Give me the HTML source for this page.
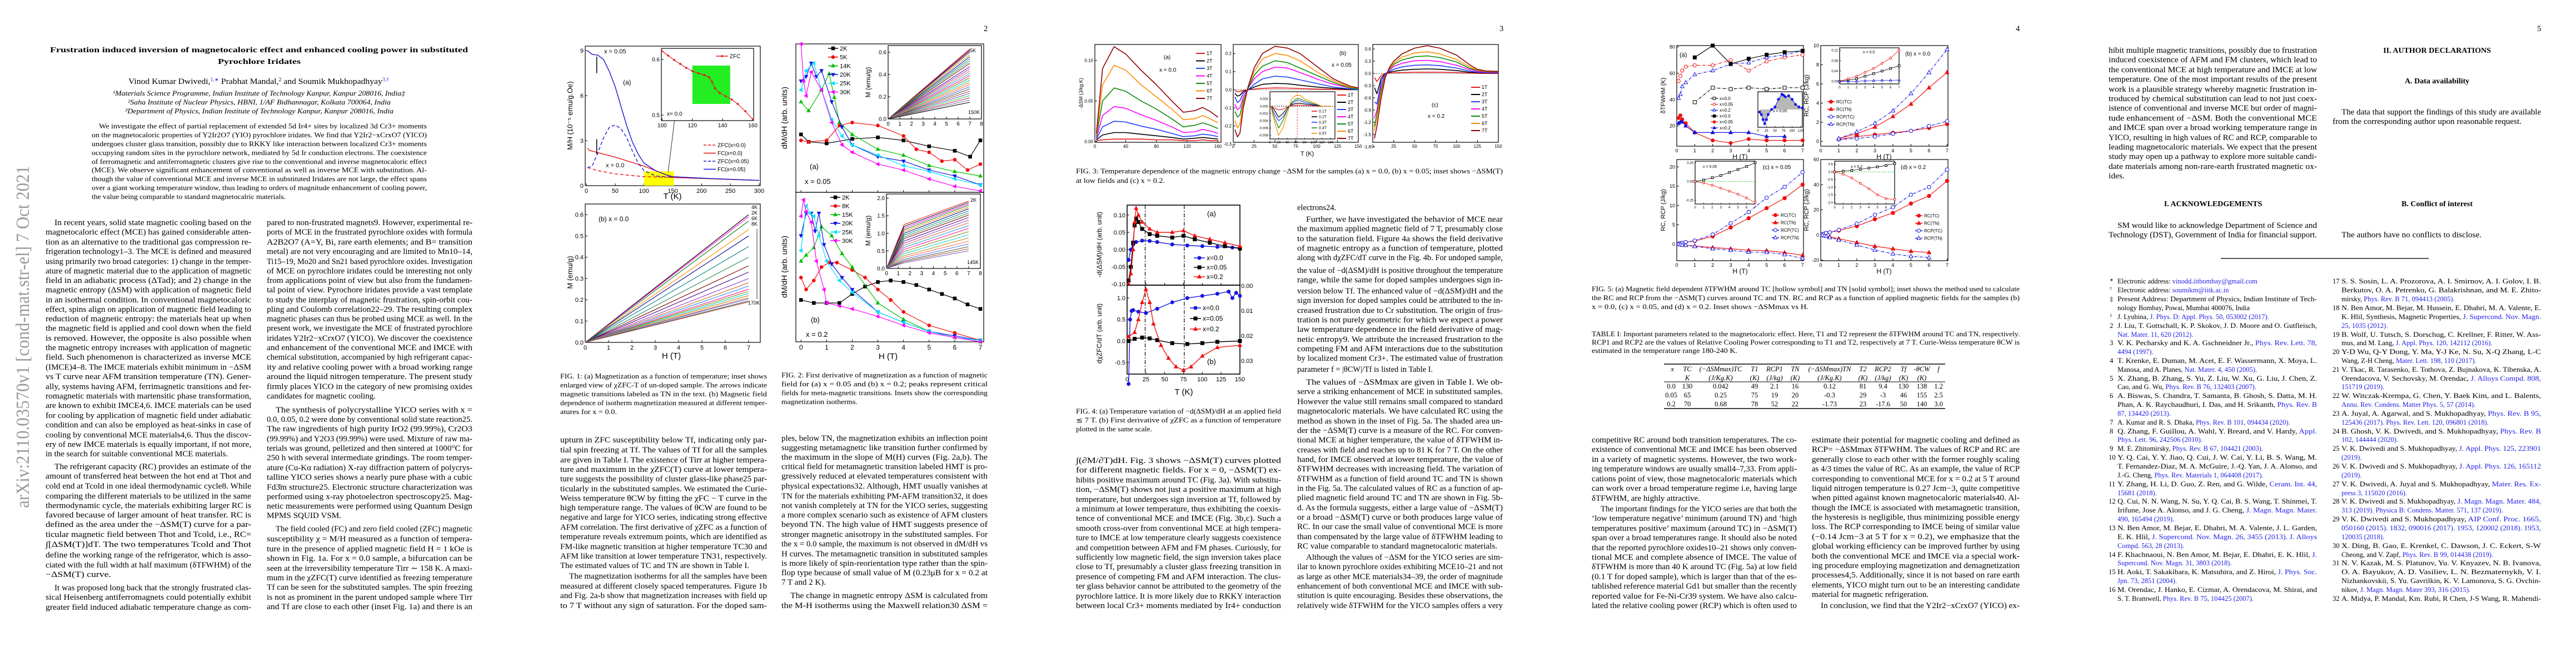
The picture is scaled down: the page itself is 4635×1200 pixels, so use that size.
<!DOCTYPE html>
<html><head><meta charset="utf-8"><title>Frustration induced inversion of magnetocaloric effect</title>
<style>
html,body{margin:0;padding:0;background:#fff;}
svg{display:block;}
.b{font-family:"Liberation Serif",serif;font-size:14.5px;fill:#000;}
.c{font-family:"Liberation Serif",serif;font-size:12.5px;fill:#000;}
.r{font-family:"Liberation Serif",serif;font-size:12.5px;fill:#000;}
.h{font-family:"Liberation Serif",serif;font-size:14px;font-weight:bold;fill:#000;}
.ax{font-family:"Liberation Sans",sans-serif;fill:#000;}
.lk{fill:#2323e6;}
</style></head>
<body>
<svg id="doc" width="4635" height="1200" viewBox="0 0 4635 1200" xmlns="http://www.w3.org/2000/svg">
<rect x="0" y="0" width="4635" height="1200" fill="#fff"/>

<!-- ================= PAGE 1 ================= -->
<g>
<text transform="translate(52,914) rotate(-90)" font-family="Liberation Serif, serif" font-size="34" fill="#9a9a9a" textLength="616" lengthAdjust="spacingAndGlyphs">arXiv:2110.03570v1  [cond-mat.str-el]  7 Oct 2021</text>
<g>
<text class="h" x="90" y="94" font-size="18" textLength="752" lengthAdjust="spacingAndGlyphs">Frustration induced inversion of magnetocaloric effect and enhanced cooling power in substituted</text>
<text class="h" x="392" y="115" font-size="18" textLength="149" lengthAdjust="spacingAndGlyphs">Pyrochlore Iridates</text>
</g>
<g>
<text class="b" x="231" y="151" textLength="469" lengthAdjust="spacingAndGlyphs">Vinod Kumar Dwivedi,<tspan class="lk" font-size="9" dy="-5">1,∗</tspan><tspan dy="5"> Prabhat Mandal,</tspan><tspan font-size="9" dy="-5">2</tspan><tspan dy="5"> and Soumik Mukhopadhyay</tspan><tspan class="lk" font-size="9" dy="-5">3,†</tspan></text>
</g>
<g font-style="italic">
<text class="c" x="203" y="172" textLength="526" lengthAdjust="spacingAndGlyphs">¹Materials Science Programme, Indian Institute of Technology Kanpur, Kanpur 208016, India‡</text>
<text class="c" x="230" y="188" textLength="473" lengthAdjust="spacingAndGlyphs">²Saha Institute of Nuclear Physics, HBNI, 1/AF Bidhannagar, Kolkata 700064, India</text>
<text class="c" x="225" y="204" textLength="483" lengthAdjust="spacingAndGlyphs">³Department of Physics, Indian Institute of Technology Kanpur, Kanpur 208016, India</text>
</g>
<g>
<text class="c" x="178" y="231" textLength="590" lengthAdjust="spacingAndGlyphs">We investigate the effect of partial replacement of extended 5d Ir4+ sites by localized 3d Cr3+ moments</text>
<text class="c" x="165" y="247" textLength="603" lengthAdjust="spacingAndGlyphs">on the magnetocaloric properties of Y2Ir2O7 (YIO) pyrochlore iridates. We find that Y2Ir2−xCrxO7 (YICO)</text>
<text class="c" x="165" y="263" textLength="603" lengthAdjust="spacingAndGlyphs">undergoes cluster glass transition, possibly due to RKKY like interaction between localized Cr3+ moments</text>
<text class="c" x="165" y="279" textLength="603" lengthAdjust="spacingAndGlyphs">occupying random sites in the pyrochlore network, mediated by 5d Ir conduction electrons. The coexistence</text>
<text class="c" x="165" y="295" textLength="603" lengthAdjust="spacingAndGlyphs">of ferromagnetic and antiferromagnetic clusters give rise to the conventional and inverse magnetocaloric effect</text>
<text class="c" x="165" y="310" textLength="603" lengthAdjust="spacingAndGlyphs">(MCE). We observe significant enhancement of conventional as well as inverse MCE with substitution. Al-</text>
<text class="c" x="165" y="326" textLength="603" lengthAdjust="spacingAndGlyphs">though the value of conventional MCE and inverse MCE in substituted Iridates are not large, the effect spans</text>
<text class="c" x="165" y="342" textLength="603" lengthAdjust="spacingAndGlyphs">over a giant working temperature window, thus leading to orders of magnitude enhancement of cooling power,</text>
<text class="c" x="165" y="358" textLength="349" lengthAdjust="spacingAndGlyphs">the value being comparable to standard magnetocalric materials.</text>
</g>
<g>
<text class="b" x="98" y="405" textLength="354" lengthAdjust="spacingAndGlyphs">In recent years, solid state magnetic cooling based on the</text>
<text class="b" x="82" y="422" textLength="370" lengthAdjust="spacingAndGlyphs">magnetocaloric effect (MCE) has gained considerable atten-</text>
<text class="b" x="82" y="440" textLength="370" lengthAdjust="spacingAndGlyphs">tion as an alternative to the traditional gas compression re-</text>
<text class="b" x="82" y="457" textLength="370" lengthAdjust="spacingAndGlyphs">frigeration technology1–3. The MCE is defined and measured</text>
<text class="b" x="82" y="475" textLength="370" lengthAdjust="spacingAndGlyphs">using primarily two broad categories: 1) change in the temper-</text>
<text class="b" x="82" y="492" textLength="370" lengthAdjust="spacingAndGlyphs">ature of magnetic material due to the application of magnetic</text>
<text class="b" x="82" y="509" textLength="370" lengthAdjust="spacingAndGlyphs">field in an adiabatic process (ΔTad); and 2) change in the</text>
<text class="b" x="82" y="526" textLength="370" lengthAdjust="spacingAndGlyphs">magnetic entropy (ΔSM) with application of magnetic field</text>
<text class="b" x="82" y="544" textLength="370" lengthAdjust="spacingAndGlyphs">in an isothermal condition. In conventional magnetocaloric</text>
<text class="b" x="82" y="561" textLength="370" lengthAdjust="spacingAndGlyphs">effect, spins align on application of magnetic field leading to</text>
<text class="b" x="82" y="578" textLength="370" lengthAdjust="spacingAndGlyphs">reduction of magnetic entropy: the materials heat up when</text>
<text class="b" x="82" y="595" textLength="370" lengthAdjust="spacingAndGlyphs">the magnetic field is applied and cool down when the field</text>
<text class="b" x="82" y="613" textLength="370" lengthAdjust="spacingAndGlyphs">is removed. However, the opposite is also possible when</text>
<text class="b" x="82" y="630" textLength="370" lengthAdjust="spacingAndGlyphs">the magnetic entropy increases with application of magnetic</text>
<text class="b" x="82" y="647" textLength="370" lengthAdjust="spacingAndGlyphs">field. Such phenomenon is characterized as inverse MCE</text>
<text class="b" x="82" y="665" textLength="370" lengthAdjust="spacingAndGlyphs">(IMCE)4–8. The IMCE materials exhibit minimum in −ΔSM</text>
<text class="b" x="82" y="682" textLength="370" lengthAdjust="spacingAndGlyphs">vs T curve near AFM transition temperature (TN). Gener-</text>
<text class="b" x="82" y="700" textLength="370" lengthAdjust="spacingAndGlyphs">ally, systems having AFM, ferrimagnetic transitions and fer-</text>
<text class="b" x="82" y="717" textLength="370" lengthAdjust="spacingAndGlyphs">romagnetic materials with martensitic phase transformation,</text>
<text class="b" x="82" y="734" textLength="370" lengthAdjust="spacingAndGlyphs">are known to exhibit IMCE4,6. IMCE materials can be used</text>
<text class="b" x="82" y="752" textLength="370" lengthAdjust="spacingAndGlyphs">for cooling by application of magnetic field under adiabatic</text>
<text class="b" x="82" y="769" textLength="370" lengthAdjust="spacingAndGlyphs">condition and can also be employed as heat-sinks in case of</text>
<text class="b" x="82" y="787" textLength="370" lengthAdjust="spacingAndGlyphs">cooling by conventional MCE materials4,6. Thus the discov-</text>
<text class="b" x="82" y="804" textLength="370" lengthAdjust="spacingAndGlyphs">ery of new IMCE materials is equally important, if not more,</text>
<text class="b" x="82" y="821" textLength="328" lengthAdjust="spacingAndGlyphs">in the search for suitable conventional MCE materials.</text>
<text class="b" x="98" y="844" textLength="354" lengthAdjust="spacingAndGlyphs">The refrigerant capacity (RC) provides an estimate of the</text>
<text class="b" x="82" y="861" textLength="370" lengthAdjust="spacingAndGlyphs">amount of transferred heat between the hot end at Thot and</text>
<text class="b" x="82" y="879" textLength="370" lengthAdjust="spacingAndGlyphs">cold end at Tcold in one ideal thermodynamic cycle8. While</text>
<text class="b" x="82" y="897" textLength="370" lengthAdjust="spacingAndGlyphs">comparing the different materials to be utilized in the same</text>
<text class="b" x="82" y="914" textLength="370" lengthAdjust="spacingAndGlyphs">thermodynamic cycle, the materials exhibiting larger RC is</text>
<text class="b" x="82" y="931" textLength="370" lengthAdjust="spacingAndGlyphs">favored because of larger amount of heat transfer. RC is</text>
<text class="b" x="82" y="948" textLength="370" lengthAdjust="spacingAndGlyphs">defined as the area under the −ΔSM(T) curve for a par-</text>
<text class="b" x="82" y="966" textLength="370" lengthAdjust="spacingAndGlyphs">ticular magnetic field between Thot and Tcold, i.e., RC=</text>
<text class="b" x="82" y="984" textLength="370" lengthAdjust="spacingAndGlyphs">∫[ΔSM(T)]dT. The two temperatures Tcold and Thot</text>
<text class="b" x="82" y="1003" textLength="370" lengthAdjust="spacingAndGlyphs">define the working range of the refrigerator, which is asso-</text>
<text class="b" x="82" y="1021" textLength="370" lengthAdjust="spacingAndGlyphs">ciated with the full width at half maximum (δTFWHM) of the</text>
<text class="b" x="82" y="1038" textLength="118" lengthAdjust="spacingAndGlyphs">−ΔSM(T) curve.</text>
<text class="b" x="98" y="1062" textLength="354" lengthAdjust="spacingAndGlyphs">It was proposed long back that the strongly frustrated clas-</text>
<text class="b" x="82" y="1079" textLength="370" lengthAdjust="spacingAndGlyphs">sical Heisenberg antiferromagnets could potentially exhibit</text>
<text class="b" x="82" y="1097" textLength="370" lengthAdjust="spacingAndGlyphs">greater field induced adiabatic temperature change as com-</text>
</g>
<g>
<text class="b" x="480" y="405" textLength="370" lengthAdjust="spacingAndGlyphs">pared to non-frustrated magnets9. However, experimental re-</text>
<text class="b" x="480" y="422" textLength="370" lengthAdjust="spacingAndGlyphs">ports of MCE in the frustrated pyrochlore oxides with formula</text>
<text class="b" x="480" y="440" textLength="370" lengthAdjust="spacingAndGlyphs">A2B2O7 (A=Y, Bi, rare earth elements; and B= transition</text>
<text class="b" x="480" y="457" textLength="370" lengthAdjust="spacingAndGlyphs">metal) are not very encouraging and are limited to Mn10–14,</text>
<text class="b" x="480" y="475" textLength="370" lengthAdjust="spacingAndGlyphs">Ti15–19, Mo20 and Sn21 based pyrochlore oxides. Investigation</text>
<text class="b" x="480" y="492" textLength="370" lengthAdjust="spacingAndGlyphs">of MCE on pyrochlore iridates could be interesting not only</text>
<text class="b" x="480" y="509" textLength="370" lengthAdjust="spacingAndGlyphs">from applications point of view but also from the fundamen-</text>
<text class="b" x="480" y="526" textLength="370" lengthAdjust="spacingAndGlyphs">tal point of view. Pyrochore iridates provide a vast template</text>
<text class="b" x="480" y="544" textLength="370" lengthAdjust="spacingAndGlyphs">to study the interplay of magnetic frustration, spin-orbit cou-</text>
<text class="b" x="480" y="561" textLength="370" lengthAdjust="spacingAndGlyphs">pling and Coulomb correlation22–29. The resulting complex</text>
<text class="b" x="480" y="578" textLength="370" lengthAdjust="spacingAndGlyphs">magnetic phases can thus be probed using MCE as well. In the</text>
<text class="b" x="480" y="595" textLength="370" lengthAdjust="spacingAndGlyphs">present work, we investigate the MCE of frustrated pyrochlore</text>
<text class="b" x="480" y="613" textLength="370" lengthAdjust="spacingAndGlyphs">iridates Y2Ir2−xCrxO7 (YICO). We discover the coexistence</text>
<text class="b" x="480" y="630" textLength="370" lengthAdjust="spacingAndGlyphs">and enhancement of the conventional MCE and IMCE with</text>
<text class="b" x="480" y="647" textLength="370" lengthAdjust="spacingAndGlyphs">chemical substitution, accompanied by high refrigerant capac-</text>
<text class="b" x="480" y="665" textLength="370" lengthAdjust="spacingAndGlyphs">ity and relative cooling power with a broad working range</text>
<text class="b" x="480" y="682" textLength="370" lengthAdjust="spacingAndGlyphs">around the liquid nitrogen temperature. The present study</text>
<text class="b" x="480" y="700" textLength="370" lengthAdjust="spacingAndGlyphs">firmly places YICO in the category of new promising oxides</text>
<text class="b" x="480" y="717" textLength="196" lengthAdjust="spacingAndGlyphs">candidates for magnetic cooling.</text>
<text class="b" x="496" y="742" textLength="354" lengthAdjust="spacingAndGlyphs">The synthesis of polycrystalline YICO series with x =</text>
<text class="b" x="480" y="759" textLength="370" lengthAdjust="spacingAndGlyphs">0.0, 0.05, 0.2 were done by conventional solid state reaction25.</text>
<text class="b" x="480" y="776" textLength="370" lengthAdjust="spacingAndGlyphs">The raw ingredients of high purity IrO2 (99.99%), Cr2O3</text>
<text class="b" x="480" y="794" textLength="370" lengthAdjust="spacingAndGlyphs">(99.99%) and Y2O3 (99.99%) were used. Mixture of raw ma-</text>
<text class="b" x="480" y="811" textLength="370" lengthAdjust="spacingAndGlyphs">terials was ground, pelletized and then sintered at 1000°C for</text>
<text class="b" x="480" y="828" textLength="370" lengthAdjust="spacingAndGlyphs">250 h with several intermediate grindings. The room temper-</text>
<text class="b" x="480" y="846" textLength="370" lengthAdjust="spacingAndGlyphs">ature (Cu-Kα radiation) X-ray diffraction pattern of polycrys-</text>
<text class="b" x="480" y="863" textLength="370" lengthAdjust="spacingAndGlyphs">talline YICO series shows a nearly pure phase with a cubic</text>
<text class="b" x="480" y="881" textLength="370" lengthAdjust="spacingAndGlyphs">Fd3̄m structure25. Electronic structure characterization was</text>
<text class="b" x="480" y="898" textLength="370" lengthAdjust="spacingAndGlyphs">performed using x-ray photoelectron spectroscopy25. Mag-</text>
<text class="b" x="480" y="915" textLength="370" lengthAdjust="spacingAndGlyphs">netic measurements were performed using Quantum Design</text>
<text class="b" x="480" y="932" textLength="134" lengthAdjust="spacingAndGlyphs">MPMS SQUID VSM.</text>
<text class="b" x="496" y="956" textLength="354" lengthAdjust="spacingAndGlyphs">The field cooled (FC) and zero field cooled (ZFC) magnetic</text>
<text class="b" x="480" y="974" textLength="370" lengthAdjust="spacingAndGlyphs">susceptibility χ = M/H measured as a function of tempera-</text>
<text class="b" x="480" y="992" textLength="370" lengthAdjust="spacingAndGlyphs">ture in the presence of applied magnetic field H = 1 kOe is</text>
<text class="b" x="480" y="1009" textLength="370" lengthAdjust="spacingAndGlyphs">shown in Fig. 1a. For x = 0.0 sample, a bifurcation can be</text>
<text class="b" x="480" y="1027" textLength="370" lengthAdjust="spacingAndGlyphs">seen at the irreversibility temperature Tirr ∼ 158 K. A maxi-</text>
<text class="b" x="480" y="1044" textLength="370" lengthAdjust="spacingAndGlyphs">mum in the χZFC(T) curve identified as freezing temperature</text>
<text class="b" x="480" y="1061" textLength="370" lengthAdjust="spacingAndGlyphs">Tf can be seen for the substituted samples. The spin freezing</text>
<text class="b" x="480" y="1079" textLength="370" lengthAdjust="spacingAndGlyphs">is not as prominent in the parent undoped sample where Tirr</text>
<text class="b" x="480" y="1096" textLength="370" lengthAdjust="spacingAndGlyphs">and Tf are close to each other (inset Fig. 1a) and there is an</text>
</g>
</g>

<!-- ================= PAGE 2 ================= -->
<g>
<text class="b" x="1770" y="56">2</text>
<g>
<text class="c" x="1008" y="681" textLength="372" lengthAdjust="spacingAndGlyphs">FIG. 1: (a) Magnetization as a function of temperature; inset shows</text>
<text class="c" x="1008" y="697" textLength="372" lengthAdjust="spacingAndGlyphs">enlarged view of χZFC-T of un-doped sample. The arrows indicate</text>
<text class="c" x="1008" y="713" textLength="372" lengthAdjust="spacingAndGlyphs">magnetic transitions labeled as TN in the text. (b) Magnetic field</text>
<text class="c" x="1008" y="729" textLength="372" lengthAdjust="spacingAndGlyphs">dependence of isotherm magnetization measured at different temper-</text>
<text class="c" x="1008" y="745" textLength="102" lengthAdjust="spacingAndGlyphs">atures for x = 0.0.</text>
</g>
<g>
<text class="c" x="1406" y="679" textLength="371" lengthAdjust="spacingAndGlyphs">FIG. 2: First derivative of magnetization as a function of magnetic</text>
<text class="c" x="1406" y="695" textLength="371" lengthAdjust="spacingAndGlyphs">field for (a) x = 0.05 and (b) x = 0.2; peaks represent critical</text>
<text class="c" x="1406" y="711" textLength="371" lengthAdjust="spacingAndGlyphs">fields for meta-magnetic transitions. Insets show the corresponding</text>
<text class="c" x="1406" y="727" textLength="137" lengthAdjust="spacingAndGlyphs">magnetization isotherms.</text>
</g>
<g>
<text class="b" x="1008" y="796" textLength="372" lengthAdjust="spacingAndGlyphs">upturn in ZFC susceptibility below Tf, indicating only par-</text>
<text class="b" x="1008" y="814" textLength="372" lengthAdjust="spacingAndGlyphs">tial spin freezing at Tf. The values of Tf for all the samples</text>
<text class="b" x="1008" y="832" textLength="372" lengthAdjust="spacingAndGlyphs">are given in Table I. The existence of Tirr at higher tempera-</text>
<text class="b" x="1008" y="849" textLength="372" lengthAdjust="spacingAndGlyphs">ture and maximum in the χZFC(T) curve at lower tempera-</text>
<text class="b" x="1008" y="866" textLength="372" lengthAdjust="spacingAndGlyphs">ture suggests the possibility of cluster glass-like phase25 par-</text>
<text class="b" x="1008" y="884" textLength="372" lengthAdjust="spacingAndGlyphs">ticularly in the substituted samples. We estimated the Curie-</text>
<text class="b" x="1008" y="901" textLength="372" lengthAdjust="spacingAndGlyphs">Weiss temperature θCW by fitting the χFC − T curve in the</text>
<text class="b" x="1008" y="918" textLength="372" lengthAdjust="spacingAndGlyphs">high temperature range. The values of θCW are found to be</text>
<text class="b" x="1008" y="935" textLength="372" lengthAdjust="spacingAndGlyphs">negative and large for YICO series, indicating strong effective</text>
<text class="b" x="1008" y="953" textLength="372" lengthAdjust="spacingAndGlyphs">AFM correlation. The first derivative of χZFC as a function of</text>
<text class="b" x="1008" y="970" textLength="372" lengthAdjust="spacingAndGlyphs">temperature reveals extremum points, which are identified as</text>
<text class="b" x="1008" y="988" textLength="372" lengthAdjust="spacingAndGlyphs">FM-like magnetic transition at higher temperature TC30 and</text>
<text class="b" x="1008" y="1005" textLength="372" lengthAdjust="spacingAndGlyphs">AFM like transition at lower temperature TN31, respectively.</text>
<text class="b" x="1008" y="1022" textLength="340" lengthAdjust="spacingAndGlyphs">The estimated values of TC and TN are shown in Table I.</text>
<text class="b" x="1024" y="1041" textLength="356" lengthAdjust="spacingAndGlyphs">The magnetization isotherms for all the samples have been</text>
<text class="b" x="1008" y="1059" textLength="372" lengthAdjust="spacingAndGlyphs">measured at different closely spaced temperatures. Figure 1b</text>
<text class="b" x="1008" y="1076" textLength="372" lengthAdjust="spacingAndGlyphs">and Fig. 2a-b show that magnetization increases with field up</text>
<text class="b" x="1008" y="1094" textLength="372" lengthAdjust="spacingAndGlyphs">to 7 T without any sign of saturation. For the doped sam-</text>
</g>
<g>
<text class="b" x="1406" y="793" textLength="371" lengthAdjust="spacingAndGlyphs">ples, below TN, the magnetization exhibits an inflection point</text>
<text class="b" x="1406" y="810" textLength="371" lengthAdjust="spacingAndGlyphs">suggesting metamagnetic like transition further confirmed by</text>
<text class="b" x="1406" y="827" textLength="371" lengthAdjust="spacingAndGlyphs">the maximum in the slope of M(H) curves (Fig. 2a,b). The</text>
<text class="b" x="1406" y="844" textLength="371" lengthAdjust="spacingAndGlyphs">critical field for metamagnetic transition labeled HMT is pro-</text>
<text class="b" x="1406" y="861" textLength="371" lengthAdjust="spacingAndGlyphs">gressively reduced at elevated temperatures consistent with</text>
<text class="b" x="1406" y="879" textLength="371" lengthAdjust="spacingAndGlyphs">physical expectations32. Although, HMT usually vanishes at</text>
<text class="b" x="1406" y="897" textLength="371" lengthAdjust="spacingAndGlyphs">TN for the materials exhibiting PM-AFM transition32, it does</text>
<text class="b" x="1406" y="914" textLength="371" lengthAdjust="spacingAndGlyphs">not vanish completely at TN for the YICO series, suggesting</text>
<text class="b" x="1406" y="931" textLength="371" lengthAdjust="spacingAndGlyphs">a more complex scenario such as existence of AFM clusters</text>
<text class="b" x="1406" y="948" textLength="371" lengthAdjust="spacingAndGlyphs">beyond TN. The high value of HMT suggests presence of</text>
<text class="b" x="1406" y="966" textLength="371" lengthAdjust="spacingAndGlyphs">stronger magnetic anisotropy in the substituted samples. For</text>
<text class="b" x="1406" y="983" textLength="371" lengthAdjust="spacingAndGlyphs">the x = 0.0 sample, the maximum is not observed in dM/dH vs</text>
<text class="b" x="1406" y="1001" textLength="371" lengthAdjust="spacingAndGlyphs">H curves. The metamagnetic transition in substituted samples</text>
<text class="b" x="1406" y="1018" textLength="371" lengthAdjust="spacingAndGlyphs">is more likely of spin-reorientation type rather than the spin-</text>
<text class="b" x="1406" y="1035" textLength="371" lengthAdjust="spacingAndGlyphs">flop type because of small value of M (0.23μB for x = 0.2 at</text>
<text class="b" x="1406" y="1052" textLength="80" lengthAdjust="spacingAndGlyphs">7 T and 2 K).</text>
<text class="b" x="1422" y="1076" textLength="355" lengthAdjust="spacingAndGlyphs">The change in magnetic entropy ΔSM is calculated from</text>
<text class="b" x="1406" y="1094" textLength="371" lengthAdjust="spacingAndGlyphs">the M-H isotherms using the Maxwell relation30 ΔSM =</text>
</g>
</g>

<!-- ================= PAGE 3 ================= -->
<g>
<text class="b" x="2698" y="56">3</text>
<g>
<text class="c" x="1936" y="312" textLength="768" lengthAdjust="spacingAndGlyphs">FIG. 3: Temperature dependence of the magnetic entropy change −ΔSM for the samples (a) x = 0.0, (b) x = 0.05; inset shows −ΔSM(T)</text>
<text class="c" x="1936" y="329" textLength="160" lengthAdjust="spacingAndGlyphs">at low fields and (c) x = 0.2.</text>
</g>
<g>
<text class="c" x="1936" y="744" textLength="369" lengthAdjust="spacingAndGlyphs">FIG. 4: (a) Temperature variation of −d(ΔSM)/dH at an applied field</text>
<text class="c" x="1936" y="760" textLength="369" lengthAdjust="spacingAndGlyphs">≲ 7 T. (b) First derivative of χZFC as a function of temperature</text>
<text class="c" x="1936" y="776" textLength="137" lengthAdjust="spacingAndGlyphs">plotted in the same scale.</text>
</g>
<g>
<text class="b" x="1936" y="833" textLength="369" lengthAdjust="spacingAndGlyphs">∫(∂M/∂T)dH. Fig. 3 shows −ΔSM(T) curves plotted</text>
<text class="b" x="1936" y="850" textLength="369" lengthAdjust="spacingAndGlyphs">for different magnetic fields. For x = 0, −ΔSM(T) ex-</text>
<text class="b" x="1936" y="868" textLength="369" lengthAdjust="spacingAndGlyphs">hibits positive maximum around TC (Fig. 3a). With substitu-</text>
<text class="b" x="1936" y="885" textLength="369" lengthAdjust="spacingAndGlyphs">tion, −ΔSM(T) shows not just a positive maximum at high</text>
<text class="b" x="1936" y="903" textLength="369" lengthAdjust="spacingAndGlyphs">temperature, but undergoes sign inversion at Tf, followed by</text>
<text class="b" x="1936" y="920" textLength="369" lengthAdjust="spacingAndGlyphs">a minimum at lower temperature, thus exhibiting the coexis-</text>
<text class="b" x="1936" y="937" textLength="369" lengthAdjust="spacingAndGlyphs">tence of conventional MCE and IMCE (Fig. 3b,c). Such a</text>
<text class="b" x="1936" y="955" textLength="369" lengthAdjust="spacingAndGlyphs">smooth cross-over from conventional MCE at high tempera-</text>
<text class="b" x="1936" y="972" textLength="369" lengthAdjust="spacingAndGlyphs">ture to IMCE at low temperature clearly suggests coexistence</text>
<text class="b" x="1936" y="990" textLength="369" lengthAdjust="spacingAndGlyphs">and competition between AFM and FM phases. Curiously, for</text>
<text class="b" x="1936" y="1007" textLength="369" lengthAdjust="spacingAndGlyphs">sufficiently low magnetic field, the sign inversion takes place</text>
<text class="b" x="1936" y="1024" textLength="369" lengthAdjust="spacingAndGlyphs">close to Tf, presumably a cluster glass freezing transition in</text>
<text class="b" x="1936" y="1042" textLength="369" lengthAdjust="spacingAndGlyphs">presence of competing FM and AFM interaction. The clus-</text>
<text class="b" x="1936" y="1059" textLength="369" lengthAdjust="spacingAndGlyphs">ter glass behavior cannot be attributed to the geometry of the</text>
<text class="b" x="1936" y="1077" textLength="369" lengthAdjust="spacingAndGlyphs">pyrochlore lattice. It is more likely due to RKKY interaction</text>
<text class="b" x="1936" y="1094" textLength="369" lengthAdjust="spacingAndGlyphs">between local Cr3+ moments mediated by Ir4+ conduction</text>
</g>
<g>
<text class="b" x="2334" y="378" textLength="70" lengthAdjust="spacingAndGlyphs">electrons24.</text>
<text class="b" x="2350" y="399" textLength="354" lengthAdjust="spacingAndGlyphs">Further, we have investigated the behavior of MCE near</text>
<text class="b" x="2334" y="416" textLength="370" lengthAdjust="spacingAndGlyphs">the maximum applied magnetic field of 7 T, presumably close</text>
<text class="b" x="2334" y="434" textLength="370" lengthAdjust="spacingAndGlyphs">to the saturation field. Figure 4a shows the field derivative</text>
<text class="b" x="2334" y="451" textLength="370" lengthAdjust="spacingAndGlyphs">of magnetic entropy as a function of temperature, plotted</text>
<text class="b" x="2334" y="468" textLength="370" lengthAdjust="spacingAndGlyphs">along with dχZFC/dT curve in the Fig. 4b. For undoped sample,</text>
<text class="b" x="2334" y="491" textLength="370" lengthAdjust="spacingAndGlyphs">the value of −d(ΔSM)/dH is positive throughout the temperature</text>
<text class="b" x="2334" y="508" textLength="370" lengthAdjust="spacingAndGlyphs">range, while the same for doped samples undergoes sign in-</text>
<text class="b" x="2334" y="528" textLength="370" lengthAdjust="spacingAndGlyphs">version below Tf. The enhanced value of −d(ΔSM)/dH and the</text>
<text class="b" x="2334" y="545" textLength="370" lengthAdjust="spacingAndGlyphs">sign inversion for doped samples could be attributed to the in-</text>
<text class="b" x="2334" y="563" textLength="370" lengthAdjust="spacingAndGlyphs">creased frustration due to Cr substitution. The origin of frus-</text>
<text class="b" x="2334" y="580" textLength="370" lengthAdjust="spacingAndGlyphs">tration is not purely geometric for which we expect a power</text>
<text class="b" x="2334" y="597" textLength="370" lengthAdjust="spacingAndGlyphs">law temperature dependence in the field derivative of mag-</text>
<text class="b" x="2334" y="615" textLength="370" lengthAdjust="spacingAndGlyphs">netic entropy9. We attribute the increased frustration to the</text>
<text class="b" x="2334" y="632" textLength="370" lengthAdjust="spacingAndGlyphs">competing FM and AFM interactions due to the substitution</text>
<text class="b" x="2334" y="649" textLength="370" lengthAdjust="spacingAndGlyphs">by localized moment Cr3+. The estimated value of frustration</text>
<text class="b" x="2334" y="669" textLength="244" lengthAdjust="spacingAndGlyphs">parameter f = |θCW|/Tf is listed in Table I.</text>
<text class="b" x="2350" y="692" textLength="354" lengthAdjust="spacingAndGlyphs">The values of −ΔSMmax are given in Table I. We ob-</text>
<text class="b" x="2334" y="709" textLength="370" lengthAdjust="spacingAndGlyphs">serve a striking enhancement of MCE in substituted samples.</text>
<text class="b" x="2334" y="727" textLength="370" lengthAdjust="spacingAndGlyphs">However the value still remains small compared to standard</text>
<text class="b" x="2334" y="744" textLength="370" lengthAdjust="spacingAndGlyphs">magnetocaloric materials. We have calculated RC using the</text>
<text class="b" x="2334" y="762" textLength="370" lengthAdjust="spacingAndGlyphs">method as shown in the inset of Fig. 5a. The shaded area un-</text>
<text class="b" x="2334" y="779" textLength="370" lengthAdjust="spacingAndGlyphs">der the −ΔSM(T) curve is a measure of the RC. For conven-</text>
<text class="b" x="2334" y="796" textLength="370" lengthAdjust="spacingAndGlyphs">tional MCE at higher temperature, the value of δTFWHM in-</text>
<text class="b" x="2334" y="814" textLength="370" lengthAdjust="spacingAndGlyphs">creases with field and reaches up to 81 K for 7 T. On the other</text>
<text class="b" x="2334" y="831" textLength="370" lengthAdjust="spacingAndGlyphs">hand, for IMCE observed at lower temperature, the value of</text>
<text class="b" x="2334" y="848" textLength="370" lengthAdjust="spacingAndGlyphs">δTFWHM decreases with increasing field. The variation of</text>
<text class="b" x="2334" y="866" textLength="370" lengthAdjust="spacingAndGlyphs">δTFWHM as a function of field around TC and TN is shown</text>
<text class="b" x="2334" y="883" textLength="370" lengthAdjust="spacingAndGlyphs">in the Fig. 5a. The calculated values of RC as a function of ap-</text>
<text class="b" x="2334" y="900" textLength="370" lengthAdjust="spacingAndGlyphs">plied magnetic field around TC and TN are shown in Fig. 5b-</text>
<text class="b" x="2334" y="918" textLength="370" lengthAdjust="spacingAndGlyphs">d. As the formula suggests, either a large value of −ΔSM(T)</text>
<text class="b" x="2334" y="935" textLength="370" lengthAdjust="spacingAndGlyphs">or a broad −ΔSM(T) curve or both produces large value of</text>
<text class="b" x="2334" y="952" textLength="370" lengthAdjust="spacingAndGlyphs">RC. In our case the small value of conventional MCE is more</text>
<text class="b" x="2334" y="970" textLength="370" lengthAdjust="spacingAndGlyphs">than compensated by the large value of δTFWHM leading to</text>
<text class="b" x="2334" y="987" textLength="360" lengthAdjust="spacingAndGlyphs">RC value comparable to standard magnetocaloric materials.</text>
<text class="b" x="2350" y="1007" textLength="354" lengthAdjust="spacingAndGlyphs">Although the values of −ΔSM for the YICO series are sim-</text>
<text class="b" x="2334" y="1024" textLength="370" lengthAdjust="spacingAndGlyphs">ilar to known pyrochlore oxides exhibiting MCE10–21 and not</text>
<text class="b" x="2334" y="1042" textLength="370" lengthAdjust="spacingAndGlyphs">as large as other MCE materials34–39, the order of magnitude</text>
<text class="b" x="2334" y="1059" textLength="370" lengthAdjust="spacingAndGlyphs">enhancement of both conventional MCE and IMCE with sub-</text>
<text class="b" x="2334" y="1076" textLength="370" lengthAdjust="spacingAndGlyphs">stitution is quite encouraging. Besides these observations, the</text>
<text class="b" x="2334" y="1094" textLength="370" lengthAdjust="spacingAndGlyphs">relatively wide δTFWHM for the YICO samples offers a very</text>
</g>
</g>

<!-- ================= PAGE 4 ================= -->
<g>
<text class="b" x="3627" y="56">4</text>
<g>
<text class="c" x="2864" y="524" textLength="770" lengthAdjust="spacingAndGlyphs">FIG. 5: (a) Magnetic field dependent δTFWHM around TC [hollow symbol] and TN [solid symbol]; inset shows the method used to calculate</text>
<text class="c" x="2864" y="540" textLength="770" lengthAdjust="spacingAndGlyphs">the RC and RCP from the −ΔSM(T) curves around TC and TN. RC and RCP as a function of applied magnetic fields for the samples (b)</text>
<text class="c" x="2864" y="556" textLength="390" lengthAdjust="spacingAndGlyphs">x = 0.0, (c) x = 0.05, and (d) x = 0.2. Inset shows −ΔSMmax vs H.</text>
</g>
<g>
<text class="c" x="2864" y="605" textLength="770" lengthAdjust="spacingAndGlyphs">TABLE I: Important parameters related to the magnetocaloric effect. Here, T1 and T2 represent the δTFWHM around TC and TN, respectively.</text>
<text class="c" x="2864" y="620" textLength="770" lengthAdjust="spacingAndGlyphs">RCP1 and RCP2 are the values of Relative Cooling Power corresponding to T1 and T2, respectively at 7 T. Curie-Weiss temperature θCW is</text>
<text class="c" x="2864" y="635" textLength="262" lengthAdjust="spacingAndGlyphs">estimated in the temperature range 180-240 K.</text>
</g>
<g font-family="Liberation Serif, serif" font-size="12.5" text-anchor="middle">
<line x1="2994" y1="655" x2="3500" y2="655" stroke="#000" stroke-width="1.5"/>
<line x1="2994" y1="687" x2="3500" y2="687" stroke="#000" stroke-width="1"/>
<line x1="2994" y1="735" x2="3500" y2="735" stroke="#000" stroke-width="1.5"/>
<g font-style="italic">
<text x="3009" y="668">x</text><text x="3036" y="668">TC</text><text x="3096" y="668">(−ΔSMmax)TC</text><text x="3157" y="668">T1</text><text x="3193" y="668">RCP1</text><text x="3230" y="668">TN</text><text x="3292" y="668">(−ΔSMmax)TN</text><text x="3352" y="668">T2</text><text x="3388" y="668">RCP2</text><text x="3425" y="668">Tf</text><text x="3458" y="668">-θCW</text><text x="3488" y="668">f</text>
<text x="3036" y="684">K</text><text x="3096" y="684">(J/Kg.K)</text><text x="3157" y="684">(K)</text><text x="3193" y="684">(J/kg)</text><text x="3230" y="684">(K)</text><text x="3292" y="684">(J/Kg.K)</text><text x="3352" y="684">(K)</text><text x="3388" y="684">(J/kg)</text><text x="3425" y="684">(K)</text><text x="3458" y="684">(K)</text>
</g>
<g><text x="3007" y="699">0.0</text><text x="3036" y="699">130</text><text x="3096" y="699">0.042</text><text x="3157" y="699">49</text><text x="3193" y="699">2.1</text><text x="3230" y="699">16</text><text x="3292" y="699">0.12</text><text x="3352" y="699">81</text><text x="3388" y="699">9.4</text><text x="3425" y="699">130</text><text x="3458" y="699">138</text><text x="3488" y="699">1.2</text></g>
<g><text x="3007" y="715">0.05</text><text x="3036" y="715">65</text><text x="3096" y="715">0.25</text><text x="3157" y="715">75</text><text x="3193" y="715">19</text><text x="3230" y="715">20</text><text x="3292" y="715">-0.3</text><text x="3352" y="715">29</text><text x="3388" y="715">-3</text><text x="3425" y="715">46</text><text x="3458" y="715">155</text><text x="3488" y="715">2.5</text></g>
<g><text x="3007" y="731">0.2</text><text x="3036" y="731">70</text><text x="3096" y="731">0.68</text><text x="3157" y="731">78</text><text x="3193" y="731">52</text><text x="3230" y="731">22</text><text x="3292" y="731">-1.73</text><text x="3352" y="731">23</text><text x="3388" y="731">-17.6</text><text x="3425" y="731">50</text><text x="3458" y="731">140</text><text x="3488" y="731">3.0</text></g>
</g>
<g>
<text class="b" x="2864" y="796" textLength="369" lengthAdjust="spacingAndGlyphs">competitive RC around both transition temperatures. The co-</text>
<text class="b" x="2864" y="813" textLength="369" lengthAdjust="spacingAndGlyphs">existence of conventional MCE and IMCE has been observed</text>
<text class="b" x="2864" y="831" textLength="369" lengthAdjust="spacingAndGlyphs">in a variety of magnetic systems. However, the two work-</text>
<text class="b" x="2864" y="848" textLength="369" lengthAdjust="spacingAndGlyphs">ing temperature windows are usually small4–7,33. From appli-</text>
<text class="b" x="2864" y="866" textLength="369" lengthAdjust="spacingAndGlyphs">cations point of view, those magnetocaloric materials which</text>
<text class="b" x="2864" y="883" textLength="369" lengthAdjust="spacingAndGlyphs">can work over a broad temperature regime i.e, having large</text>
<text class="b" x="2864" y="901" textLength="195" lengthAdjust="spacingAndGlyphs">δTFWHM, are highly attractive.</text>
<text class="b" x="2880" y="920" textLength="353" lengthAdjust="spacingAndGlyphs">The important findings for the YICO series are that both the</text>
<text class="b" x="2864" y="937" textLength="369" lengthAdjust="spacingAndGlyphs">‘low temperature negative’ minimum (around TN) and ‘high</text>
<text class="b" x="2864" y="955" textLength="369" lengthAdjust="spacingAndGlyphs">temperatures positive’ maximum (around TC) in −ΔSM(T)</text>
<text class="b" x="2864" y="972" textLength="369" lengthAdjust="spacingAndGlyphs">span over a broad temperatures range. It should also be noted</text>
<text class="b" x="2864" y="990" textLength="369" lengthAdjust="spacingAndGlyphs">that the reported pyrochlore oxides10–21 shows only conven-</text>
<text class="b" x="2864" y="1007" textLength="369" lengthAdjust="spacingAndGlyphs">tional MCE and complete absence of IMCE. The value of</text>
<text class="b" x="2864" y="1024" textLength="369" lengthAdjust="spacingAndGlyphs">δTFWHM is more than 40 K around TC (Fig. 5a) at low field</text>
<text class="b" x="2864" y="1042" textLength="369" lengthAdjust="spacingAndGlyphs">(0.1 T for doped sample), which is larger than that of the es-</text>
<text class="b" x="2864" y="1059" textLength="369" lengthAdjust="spacingAndGlyphs">tablished reference material Gd1 but smaller than the recently</text>
<text class="b" x="2864" y="1077" textLength="369" lengthAdjust="spacingAndGlyphs">reported value for Fe-Ni-Cr39 system. We have also calcu-</text>
<text class="b" x="2864" y="1094" textLength="369" lengthAdjust="spacingAndGlyphs">lated the relative cooling power (RCP) which is often used to</text>
</g>
<g>
<text class="b" x="3260" y="796" textLength="374" lengthAdjust="spacingAndGlyphs">estimate their potential for magnetic cooling and defined as</text>
<text class="b" x="3260" y="813" textLength="374" lengthAdjust="spacingAndGlyphs">RCP= −ΔSMmax δTFWHM. The values of RCP and RC are</text>
<text class="b" x="3260" y="831" textLength="374" lengthAdjust="spacingAndGlyphs">generally close to each other with the former roughly scaling</text>
<text class="b" x="3260" y="848" textLength="374" lengthAdjust="spacingAndGlyphs">as 4/3 times the value of RC. As an example, the value of RCP</text>
<text class="b" x="3260" y="866" textLength="374" lengthAdjust="spacingAndGlyphs">corresponding to conventional MCE for x = 0.2 at 5 T around</text>
<text class="b" x="3260" y="883" textLength="374" lengthAdjust="spacingAndGlyphs">liquid nitrogen temperature is 0.27 Jcm−3, quite competitive</text>
<text class="b" x="3260" y="900" textLength="374" lengthAdjust="spacingAndGlyphs">when pitted against known magnetocaloric materials40. Al-</text>
<text class="b" x="3260" y="918" textLength="374" lengthAdjust="spacingAndGlyphs">though the IMCE is associated with metamagnetic transition,</text>
<text class="b" x="3260" y="935" textLength="374" lengthAdjust="spacingAndGlyphs">the hysteresis is negligible, thus minimizing possible energy</text>
<text class="b" x="3260" y="952" textLength="374" lengthAdjust="spacingAndGlyphs">loss. The RCP corresponding to IMCE being of similar value</text>
<text class="b" x="3260" y="970" textLength="374" lengthAdjust="spacingAndGlyphs">(−0.14 Jcm−3 at 5 T for x = 0.2), we emphasize that the</text>
<text class="b" x="3260" y="987" textLength="374" lengthAdjust="spacingAndGlyphs">global working efficiency can be improved further by using</text>
<text class="b" x="3260" y="1005" textLength="374" lengthAdjust="spacingAndGlyphs">both the conventional MCE and IMCE via a special work-</text>
<text class="b" x="3260" y="1022" textLength="374" lengthAdjust="spacingAndGlyphs">ing procedure employing magnetization and demagnetization</text>
<text class="b" x="3260" y="1039" textLength="374" lengthAdjust="spacingAndGlyphs">processes4,5. Additionally, since it is not based on rare earth</text>
<text class="b" x="3260" y="1057" textLength="374" lengthAdjust="spacingAndGlyphs">elements, YICO might turn out to be an interesting candidate</text>
<text class="b" x="3260" y="1074" textLength="210" lengthAdjust="spacingAndGlyphs">material for magnetic refrigeration.</text>
<text class="b" x="3276" y="1094" textLength="358" lengthAdjust="spacingAndGlyphs">In conclusion, we find that the Y2Ir2−xCrxO7 (YICO) ex-</text>
</g>
</g>

<!-- ================= PAGE 5 ================= -->
<g>
<text class="b" x="4565" y="56">5</text>
<g>
<text class="b" x="3794" y="95" textLength="375" lengthAdjust="spacingAndGlyphs">hibit multiple magnetic transitions, possibly due to frustration</text>
<text class="b" x="3794" y="112" textLength="375" lengthAdjust="spacingAndGlyphs">induced coexistence of AFM and FM clusters, which lead to</text>
<text class="b" x="3794" y="130" textLength="375" lengthAdjust="spacingAndGlyphs">the conventional MCE at high temperature and IMCE at low</text>
<text class="b" x="3794" y="147" textLength="375" lengthAdjust="spacingAndGlyphs">temperature. One of the most important results of the present</text>
<text class="b" x="3794" y="165" textLength="375" lengthAdjust="spacingAndGlyphs">work is a plausible strategy whereby magnetic frustration in-</text>
<text class="b" x="3794" y="182" textLength="375" lengthAdjust="spacingAndGlyphs">troduced by chemical substitution can lead to not just coex-</text>
<text class="b" x="3794" y="199" textLength="375" lengthAdjust="spacingAndGlyphs">istence of conventional and inverse MCE but order of magni-</text>
<text class="b" x="3794" y="217" textLength="375" lengthAdjust="spacingAndGlyphs">tude enhancement of −ΔSM. Both the conventional MCE</text>
<text class="b" x="3794" y="234" textLength="375" lengthAdjust="spacingAndGlyphs">and IMCE span over a broad working temperature range in</text>
<text class="b" x="3794" y="252" textLength="375" lengthAdjust="spacingAndGlyphs">YICO, resulting in high values of RC and RCP, comparable to</text>
<text class="b" x="3794" y="269" textLength="375" lengthAdjust="spacingAndGlyphs">leading magnetocaloric materials. We expect that the present</text>
<text class="b" x="3794" y="286" textLength="375" lengthAdjust="spacingAndGlyphs">study may open up a pathway to explore more suitable candi-</text>
<text class="b" x="3794" y="304" textLength="375" lengthAdjust="spacingAndGlyphs">date materials among non-rare-earth frustrated magnetic ox-</text>
<text class="b" x="3794" y="321" textLength="29" lengthAdjust="spacingAndGlyphs">ides.</text>
</g>
<text class="h" x="3982" y="371" text-anchor="middle" font-size="13">I.   ACKNOWLEDGEMENTS</text>
<g>
<text class="b" x="3810" y="410" textLength="359" lengthAdjust="spacingAndGlyphs">SM would like to acknowledge Department of Science and</text>
<text class="b" x="3794" y="427" textLength="375" lengthAdjust="spacingAndGlyphs">Technology (DST), Government of India for financial support.</text>
</g>
<text class="h" x="4385" y="95" text-anchor="middle" font-size="13">II.   AUTHOR DECLARATIONS</text>
<text class="h" x="4385" y="150" text-anchor="middle" font-size="13">A.   Data availability</text>
<g>
<text class="b" x="4213" y="206" textLength="359" lengthAdjust="spacingAndGlyphs">The data that support the findings of this study are available</text>
<text class="b" x="4197" y="223" textLength="340" lengthAdjust="spacingAndGlyphs">from the corresponding author upon reasonable request.</text>
</g>
<text class="h" x="4385" y="371" text-anchor="middle" font-size="13">B.   Conflict of interest</text>
<text class="b" x="4213" y="427" textLength="252" lengthAdjust="spacingAndGlyphs">The authors have no conflicts to disclose.</text>
<line x1="3996" y1="465" x2="4370" y2="465" stroke="#555" stroke-width="2"/>
<g>
<text class="r" x="3796" y="510"><tspan font-size="8" dy="-4">∗</tspan><tspan x="3810" dy="4">Electronic address: </tspan><tspan class="lk">vinodd.iitbombay@gmail.com</tspan></text>
<text class="r" x="3796" y="526"><tspan font-size="8" dy="-4">†</tspan><tspan x="3810" dy="4">Electronic address: </tspan><tspan class="lk">soumikm@iitk.ac.in</tspan></text>
<text class="r" x="3796" y="542" font-size="8">‡</text><text class="r" x="3810" y="542" textLength="359" lengthAdjust="spacingAndGlyphs">Present Address: Department of Physics, Indian Institute of Tech-</text>
<text class="r" x="3810" y="558">nology Bombay, Powai, Mumbai 400076, India</text>
<text class="r" x="3796" y="574"><tspan font-size="8" dy="-4">1</tspan><tspan x="3810" dy="4">J. Lyubina, </tspan><tspan class="lk">J. Phys. D: Appl. Phys. 50, 053002 (2017).</tspan></text>
<text class="r" x="3796" y="590" font-size="8">2</text><text class="r" x="3810" y="590" textLength="359" lengthAdjust="spacingAndGlyphs">J. Liu, T. Gottschall, K. P. Skokov, J. D. Moore and O. Gutfleisch,</text>
<text class="r lk" x="3810" y="606">Nat. Mater. 11, 620 (2012).</text>
<text class="r" x="3796" y="621" font-size="8">3</text><text class="r" x="3810" y="621" textLength="359" lengthAdjust="spacingAndGlyphs">V. K. Pecharsky and K. A. Gschneidner Jr., <tspan class="lk">Phys. Rev. Lett. 78,</tspan></text>
<text class="r lk" x="3810" y="637">4494 (1997).</text>
<text class="r" x="3796" y="653" font-size="8">4</text><text class="r" x="3810" y="653" textLength="359" lengthAdjust="spacingAndGlyphs">T. Krenke, E. Duman, M. Acet, E. F. Wassermann, X. Moya, L.</text>
<text class="r" x="3810" y="669">Manosa, and A. Planes, <tspan class="lk">Nat. Mater. 4, 450 (2005).</tspan></text>
<text class="r" x="3796" y="685" font-size="8">5</text><text class="r" x="3810" y="685" textLength="359" lengthAdjust="spacingAndGlyphs">X. Zhang, B. Zhang, S. Yu, Z. Liu, W. Xu, G. Liu, J. Chen, Z.</text>
<text class="r" x="3810" y="700">Cao, and G. Wu, <tspan class="lk">Phys. Rev. B 76, 132403 (2007).</tspan></text>
<text class="r" x="3796" y="716" font-size="8">6</text><text class="r" x="3810" y="716" textLength="359" lengthAdjust="spacingAndGlyphs">A. Biswas, S. Chandra, T. Samanta, B. Ghosh, S. Datta, M. H.</text>
<text class="r" x="3810" y="732" textLength="359" lengthAdjust="spacingAndGlyphs">Phan, A. K. Raychaudhuri, I. Das, and H. Srikanth, <tspan class="lk">Phys. Rev. B</tspan></text>
<text class="r lk" x="3810" y="748">87, 134420 (2013).</text>
<text class="r" x="3796" y="764" font-size="8">7</text><text class="r" x="3810" y="764">A. Kumar and R. S. Dhaka, <tspan class="lk">Phys. Rev. B 101, 094434 (2020).</tspan></text>
<text class="r" x="3796" y="780" font-size="8">8</text><text class="r" x="3810" y="780" textLength="359" lengthAdjust="spacingAndGlyphs">Q. Zhang, F. Guillou, A. Wahl, Y. Breard, and V. Hardy, <tspan class="lk">Appl.</tspan></text>
<text class="r lk" x="3810" y="795">Phys. Lett. 96, 242506 (2010).</text>
<text class="r" x="3796" y="811" font-size="8">9</text><text class="r" x="3810" y="811">M. E. Zhitomirsky, <tspan class="lk">Phys. Rev. B 67, 104421 (2003).</tspan></text>
<text class="r" x="3794" y="827" font-size="8">10</text><text class="r" x="3810" y="827" textLength="359" lengthAdjust="spacingAndGlyphs">Y. Q. Cai, Y. Y. Jiao, Q. Cui, J. W. Cai, Y. Li, B. S. Wang, M.</text>
<text class="r" x="3810" y="843" textLength="359" lengthAdjust="spacingAndGlyphs">T. Fernandez-Diaz, M. A. McGuire, J.-Q. Yan, J. A. Alonso, and</text>
<text class="r" x="3810" y="859">J.-G. Cheng, <tspan class="lk">Phys. Rev. Materials 1, 064408 (2017).</tspan></text>
<text class="r" x="3794" y="875" font-size="8">11</text><text class="r" x="3810" y="875" textLength="359" lengthAdjust="spacingAndGlyphs">Y. Zhang, H. Li, D. Guo, Z. Ren, and G. Wilde, <tspan class="lk">Ceram. Int. 44,</tspan></text>
<text class="r lk" x="3810" y="891">15681 (2018).</text>
<text class="r" x="3794" y="906" font-size="8">12</text><text class="r" x="3810" y="906" textLength="359" lengthAdjust="spacingAndGlyphs">Q. Cui, N. N. Wang, N. Su, Y. Q. Cai, B. S. Wang, T. Shinmei, T.</text>
<text class="r" x="3810" y="922" textLength="359" lengthAdjust="spacingAndGlyphs">Irifune, Jose A. Alonso, and J. G. Cheng, <tspan class="lk">J. Magn. Magn. Mater.</tspan></text>
<text class="r lk" x="3810" y="938">490, 165494 (2019).</text>
<text class="r" x="3794" y="954" font-size="8">13</text><text class="r" x="3810" y="954" textLength="359" lengthAdjust="spacingAndGlyphs">N. Ben Amor, M. Bejar, E. Dhahri, M. A. Valente, J. L. Garden,</text>
<text class="r" x="3810" y="970" textLength="359" lengthAdjust="spacingAndGlyphs">E. K. Hlil, <tspan class="lk">J. Supercond. Nov. Magn. 26, 3455 (2013). J. Alloys</tspan></text>
<text class="r lk" x="3810" y="986">Compd. 563, 28 (2013).</text>
<text class="r" x="3794" y="1002" font-size="8">14</text><text class="r" x="3810" y="1002" textLength="359" lengthAdjust="spacingAndGlyphs">F. Khachnaoui, N. Ben Amor, M. Bejar, E. Dhahri, E. K. Hlil, <tspan class="lk">J.</tspan></text>
<text class="r lk" x="3810" y="1017">Supercond. Nov. Magn. 31, 3803 (2018).</text>
<text class="r" x="3794" y="1033" font-size="8">15</text><text class="r" x="3810" y="1033" textLength="359" lengthAdjust="spacingAndGlyphs">H. Aoki, T. Sakakibara, K. Matsuhira, and Z. Hiroi, <tspan class="lk">J. Phys. Soc.</tspan></text>
<text class="r lk" x="3810" y="1049">Jpn. 73, 2851 (2004).</text>
<text class="r" x="3794" y="1065" font-size="8">16</text><text class="r" x="3810" y="1065" textLength="359" lengthAdjust="spacingAndGlyphs">M. Orendac, J. Hanko, E. Cizmar, A. Orendacova, M. Shirai, and</text>
<text class="r" x="3810" y="1081">S. T. Bramwell, <tspan class="lk">Phys. Rev. B 75, 104425 (2007).</tspan></text>
</g>
<g>
<text class="r" x="4197" y="510" font-size="8">17</text><text class="r" x="4213" y="510" textLength="359" lengthAdjust="spacingAndGlyphs">S. S. Sosin, L. A. Prozorova, A. I. Smirnov, A. I. Golov, I. B.</text>
<text class="r" x="4213" y="526" textLength="359" lengthAdjust="spacingAndGlyphs">Berkutov, O. A. Petrenko, G. Balakrishnan, and M. E. Zhito-</text>
<text class="r" x="4213" y="542">mirsky, <tspan class="lk">Phys. Rev. B 71, 094413 (2005).</tspan></text>
<text class="r" x="4197" y="558" font-size="8">18</text><text class="r" x="4213" y="558" textLength="359" lengthAdjust="spacingAndGlyphs">N. Ben Amor, M. Bejar, M. Hussein, E. Dhahri, M. A. Valente, E.</text>
<text class="r" x="4213" y="574" textLength="359" lengthAdjust="spacingAndGlyphs">K. Hlil, Synthesis, Magnetic Properties, <tspan class="lk">J. Supercond. Nov. Magn.</tspan></text>
<text class="r lk" x="4213" y="590">25, 1035 (2012).</text>
<text class="r" x="4197" y="606" font-size="8">19</text><text class="r" x="4213" y="606" textLength="359" lengthAdjust="spacingAndGlyphs">B. Wolf, U. Tutsch, S. Dorschug, C. Krellner, F. Ritter, W. Ass-</text>
<text class="r" x="4213" y="621">mus, and M. Lang, <tspan class="lk">J. Appl. Phys. 120, 142112 (2016).</tspan></text>
<text class="r" x="4197" y="637" font-size="8">20</text><text class="r" x="4213" y="637" textLength="359" lengthAdjust="spacingAndGlyphs">Y-D Wu, Q-Y Dong, Y. Ma, Y-J Ke, N. Su, X-Q Zhang, L-C</text>
<text class="r" x="4213" y="653">Wang, Z-H Cheng, <tspan class="lk">Mater. Lett. 198, 110 (2017).</tspan></text>
<text class="r" x="4197" y="669" font-size="8">21</text><text class="r" x="4213" y="669" textLength="359" lengthAdjust="spacingAndGlyphs">V. Tkac, R. Tarasenko, E. Tothova, Z. Bujnakova, K. Tibenska, A.</text>
<text class="r" x="4213" y="685" textLength="359" lengthAdjust="spacingAndGlyphs">Orendacova, V. Sechovsky, M. Orendac, <tspan class="lk">J. Alloys Compd. 808,</tspan></text>
<text class="r lk" x="4213" y="700">151719 (2019).</text>
<text class="r" x="4197" y="716" font-size="8">22</text><text class="r" x="4213" y="716" textLength="359" lengthAdjust="spacingAndGlyphs">W. Witczak-Krempa, G. Chen, Y. Baek Kim, and L. Balents,</text>
<text class="r lk" x="4213" y="732">Annu. Rev. Condens. Matter Phys. 5, 57 (2014).</text>
<text class="r" x="4197" y="748" font-size="8">23</text><text class="r" x="4213" y="748" textLength="359" lengthAdjust="spacingAndGlyphs">A. Juyal, A. Agarwal, and S. Mukhopadhyay, <tspan class="lk">Phys. Rev. B 95,</tspan></text>
<text class="r lk" x="4213" y="764">125436 (2017). Phys. Rev. Lett. 120, 096801 (2018).</text>
<text class="r" x="4197" y="780" font-size="8">24</text><text class="r" x="4213" y="780" textLength="359" lengthAdjust="spacingAndGlyphs">B. Ghosh, V. K. Dwivedi, and S. Mukhopadhyay, <tspan class="lk">Phys. Rev. B</tspan></text>
<text class="r lk" x="4213" y="795">102, 144444 (2020).</text>
<text class="r" x="4197" y="811" font-size="8">25</text><text class="r" x="4213" y="811" textLength="359" lengthAdjust="spacingAndGlyphs">V. K. Dwivedi and S. Mukhopadhyay, <tspan class="lk">J. Appl. Phys. 125, 223901</tspan></text>
<text class="r lk" x="4213" y="827">(2019).</text>
<text class="r" x="4197" y="843" font-size="8">26</text><text class="r" x="4213" y="843" textLength="359" lengthAdjust="spacingAndGlyphs">V. K. Dwivedi and S. Mukhopadhyay, <tspan class="lk">J. Appl. Phys. 126, 165112</tspan></text>
<text class="r lk" x="4213" y="859">(2019).</text>
<text class="r" x="4197" y="875" font-size="8">27</text><text class="r" x="4213" y="875" textLength="359" lengthAdjust="spacingAndGlyphs">V. K. Dwivedi, A. Juyal and S. Mukhopadhyay, <tspan class="lk">Mater. Res. Ex-</tspan></text>
<text class="r lk" x="4213" y="891">press 3, 115020 (2016).</text>
<text class="r" x="4197" y="906" font-size="8">28</text><text class="r" x="4213" y="906" textLength="359" lengthAdjust="spacingAndGlyphs">V. K. Dwivedi and S. Mukhopadhyay, <tspan class="lk">J. Magn. Magn. Mater. 484,</tspan></text>
<text class="r lk" x="4213" y="922">313 (2019). Physica B: Condens. Matter. 571, 137 (2019).</text>
<text class="r" x="4197" y="938" font-size="8">29</text><text class="r" x="4213" y="938" textLength="359" lengthAdjust="spacingAndGlyphs">V. K. Dwivedi and S. Mukhopadhyay, <tspan class="lk">AIP Conf. Proc. 1665,</tspan></text>
<text class="r lk" x="4213" y="954" textLength="359" lengthAdjust="spacingAndGlyphs">050160 (2015). 1832, 090016 (2017). 1953, 120002 (2018). 1953,</text>
<text class="r lk" x="4213" y="970">120035 (2018).</text>
<text class="r" x="4197" y="986" font-size="8">30</text><text class="r" x="4213" y="986" textLength="359" lengthAdjust="spacingAndGlyphs">X. Ding, B. Gao, E. Krenkel, C. Dawson, J. C. Eckert, S-W</text>
<text class="r" x="4213" y="1002">Cheong, and V. Zapf, <tspan class="lk">Phys. Rev. B 99, 014438 (2019).</tspan></text>
<text class="r" x="4197" y="1017" font-size="8">31</text><text class="r" x="4213" y="1017" textLength="359" lengthAdjust="spacingAndGlyphs">N. V. Kazak, M. S. Platunov, Yu. V. Knyazev, N. B. Ivanova,</text>
<text class="r" x="4213" y="1033" textLength="359" lengthAdjust="spacingAndGlyphs">O. A. Bayukov, A. D. Vasiliev, L. N. Bezmaternykh, V. I.</text>
<text class="r" x="4213" y="1049" textLength="359" lengthAdjust="spacingAndGlyphs">Nizhankovskii, S. Yu. Gavrilkin, K. V. Lamonova, S. G. Ovchin-</text>
<text class="r" x="4213" y="1065">nikov, <tspan class="lk">J. Magn. Magn. Mater 393, 316 (2015).</tspan></text>
<text class="r" x="4197" y="1081" font-size="8">32</text><text class="r" x="4213" y="1081" textLength="359" lengthAdjust="spacingAndGlyphs">A. Midya, P. Mandal, Km. Rubi, R Chen, J-S Wang, R. Mahendi-</text>
</g>
</g>

<g id="figures"></g>
</svg>

<script>
/* ===================== DATA ===================== */
// Fig 1a: M/H vs T
const F1A_T_FC005 = [2,10,20,30,40,50,60,70,80,90,100,120,140,150,200,300];
const F1A_M_FC005 = [9.0,8.75,8.7,8.4,7.6,6.6,5.3,4.0,2.9,2.1,1.5,1.0,0.7,0.6,0.5,0.35];
const F1A_T_ZFC005 = [2,10,20,30,40,50,60,70,80,90,100,120,150];
const F1A_M_ZFC005 = [1.2,1.3,2.2,3.2,3.9,4.05,3.8,3.2,2.3,1.5,1.0,0.65,0.55];
const F1A_T_FC0 = [2,5,50,100,150,200,300];
const F1A_M_FC0 = [2.5,2.35,1.9,1.3,0.55,0.48,0.35];
const F1A_T_ZFC0 = [2,20,50,100,150,300];
const F1A_M_ZFC0 = [1.2,1.0,0.78,0.6,0.55,0.35];
const F1A_XTICKS = ['0','50','100','150','200','250','300'];
const F1A_YTICKS = ['0','3','6','9'];
const F1A_LEGEND = ['ZFC(x=0.0)','FC(x=0.0)','ZFC(x=0.05)','FC(x=0.05)'];
// Fig 1a inset
const F1I_T = [100,104,108,112,116,120,124,128,131,133,135,138,142,146,150,155,160];
const F1I_M = [0.615,0.607,0.599,0.592,0.585,0.579,0.575,0.572,0.568,0.56,0.548,0.54,0.534,0.528,0.52,0.507,0.492];
const F1I_XTICKS = ['100','120','140','160'];
const F1I_YTICKS = ['0.5','0.6'];
// Fig 1b: M(H) isotherm end values at 7 T
const F1B_END = [0.60,0.60,0.59,0.57,0.53,0.50,0.45,0.40,0.36,0.33,0.30,0.28,0.265,0.25,0.24,0.23,0.22,0.21,0.205,0.195,0.19];
const F1B_XTICKS = ['0','1','2','3','4','5','6','7'];
const F1B_YTICKS = ['0.0','0.1','0.2','0.3','0.4','0.5','0.6'];
const F1B_TLABELS = ['4K','2K','6K','8K'];
// Fig 2a: dM/dH, x = 0.05
const F2A_LABELS = ['2K','5K','14K','20K','25K','30K'];
const F2A_H = [[0,0.3,1,2,3,4,5,6,6.6,7],[0,0.3,1,1.5,2,3,4,4.5,5,5.5,6,6.5,7],[0,0.3,0.8,1.1,1.3,1.5,2,3,4,5,6,7],[0,0.2,0.4,0.6,0.8,1.2,1.6,2,3,4,5,6,7],[0,0.2,0.5,0.8,1.2,1.6,2,3,4,5,6,7],[0,0.1,0.2,0.4,0.8,1.2,1.6,2,3,4,5,6,7]];
const F2A_Y = [[0.39,0.34,0.33,0.36,0.37,0.35,0.31,0.28,0.24,0.35],[0.35,0.34,0.35,0.45,0.47,0.45,0.38,0.29,0.27,0.21,0.22,0.15,0.19],[0.61,0.55,0.69,0.80,0.64,0.47,0.39,0.29,0.25,0.18,0.14,0.11],[0.75,0.78,0.87,0.78,0.82,0.61,0.44,0.32,0.24,0.21,0.15,0.11,0.05],[0.69,0.82,0.87,0.69,0.49,0.38,0.32,0.25,0.18,0.14,0.09,0.05],[1.0,0.75,0.65,0.81,0.69,0.47,0.32,0.27,0.19,0.15,0.09,0.04,0.01]];
const F2A_INSET_END = [0.63,0.62,0.61,0.60,0.58,0.56,0.54,0.52,0.50,0.47,0.45,0.43,0.41,0.39,0.37,0.35,0.33,0.31,0.29,0.27,0.25,0.23,0.21,0.19,0.17,0.15];
const F2I_XTICKS = ['0','1','2','3','4','5','6','7','8'];
const F2AI_YTICKS = ['0.0','0.2','0.4','0.6'];
// Fig 2b: dM/dH, x = 0.2
const F2B_LABELS = ['2K','8K','15K','20K','25K','30K'];
const F2B_H = [[0,0.5,1,1.5,2,2.5,3,3.5,4,4.5,5,5.5,6,6.5,7],[0,0.2,0.5,0.8,1.1,1.4,2,2.5,3,3.5,4,5,6,7],[0,0.2,0.5,0.8,1.2,1.6,2,3,4,5,6,7],[0,0.2,0.4,0.55,0.7,0.9,1.2,1.6,2,3,4,5,6,7],[0,0.2,0.35,0.5,0.7,1,1.5,2,3,4,5,6,7],[0,0.1,0.2,0.4,0.6,0.9,1,1.5,2,3,4,5,6,7]];
const F2B_Y = [[0.28,0.26,0.26,0.26,0.32,0.37,0.40,0.41,0.40,0.38,0.35,0.32,0.29,0.25,0.22],[0.43,0.35,0.41,0.50,0.53,0.53,0.48,0.43,0.35,0.28,0.20,0.11,0.06,0.01],[0.54,0.58,0.63,0.77,0.71,0.59,0.50,0.26,0.15,0.07,0.03,0.0],[0.71,0.86,0.86,0.74,0.86,0.65,0.52,0.43,0.35,0.20,0.13,0.07,0.04,0.01],[0.61,0.91,0.86,0.84,0.71,0.54,0.41,0.33,0.20,0.13,0.07,0.03,0.01],[0.84,0.95,0.87,0.80,0.54,0.35,0.26,0.24,0.22,0.17,0.11,0.06,0.03,0.0]];
const F2B_INSET_END = [1.92,1.88,1.84,1.8,1.75,1.7,1.64,1.58,1.52,1.45,1.38,1.3,1.22,1.14,1.05,0.96,0.87,0.78,0.7,0.62,0.56,0.5];
const F2B_INSET_MID = [1.25,1.2,1.15,1.1,1.05,1.0,0.95,0.9,0.85,0.78,0.72,0.66,0.6,0.54,0.48,0.42,0.36,0.31,0.26,0.22,0.19,0.16];
const F2BI_YTICKS = ['0.0','0.5','1.0','1.5','2.0'];
const F2_XTICKS = ['0','1','2','3','4','5','6','7'];
// Fig 3: -dS_M vs T
const F3_FIELDS = ['1T','2T','3T','4T','5T','6T','7T'];
const F3A_T = [2,10,25,40,60,80,100,115,130,140,150,160];
const F3A_S = [
 [0.001,0.002,0.003,0.003,0.003,0.002,0.002,0.001,0.001,0.002,0.001,0.001],
 [0.002,0.008,0.011,0.011,0.009,0.007,0.005,0.003,0.004,0.005,0.004,0.003],
 [0.003,0.018,0.025,0.024,0.019,0.015,0.010,0.006,0.007,0.009,0.008,0.006],
 [0.004,0.032,0.043,0.041,0.033,0.026,0.018,0.011,0.012,0.015,0.013,0.010],
 [0.006,0.050,0.066,0.062,0.050,0.040,0.028,0.018,0.020,0.023,0.020,0.016],
 [0.008,0.070,0.094,0.088,0.070,0.055,0.040,0.027,0.028,0.032,0.028,0.023],
 [0.010,0.090,0.117,0.108,0.088,0.070,0.050,0.036,0.038,0.042,0.037,0.030]];
const F3A_XTICKS = ['0','40','80','120','160'];
const F3A_YTICKS = ['0.00','0.05','0.10'];
const F3B_T = [2,5,8,12,18,25,35,50,65,80,100,120,140,150];
const F3B_S = [
 [-0.005,-0.01,-0.01,-0.003,0,0.004,0.008,0.01,0.009,0.007,0.004,0.002,0,0],
 [-0.02,-0.035,-0.03,-0.01,0,0.015,0.03,0.035,0.033,0.025,0.015,0.008,0.002,0],
 [-0.04,-0.07,-0.06,-0.02,0,0.03,0.06,0.075,0.07,0.055,0.035,0.015,0.005,0],
 [-0.08,-0.11,-0.1,-0.04,0.01,0.06,0.1,0.125,0.12,0.095,0.06,0.03,0.01,0.005],
 [-0.12,-0.15,-0.14,-0.06,0.01,0.08,0.13,0.16,0.15,0.12,0.08,0.04,0.01,0.005],
 [-0.17,-0.21,-0.19,-0.08,0.02,0.1,0.17,0.2,0.19,0.16,0.1,0.05,0.015,0.01],
 [-0.22,-0.26,-0.24,-0.1,0.02,0.12,0.2,0.24,0.23,0.2,0.13,0.06,0.02,0.01]];
const F3BC_XTICKS = ['0','25','50','75','100','125','150'];
const F3B_YTICKS = ['-0.3','-0.2','-0.1','0.0','0.1','0.2'];
const F3BI_FIELDS = ['0.1T','0.2T','0.3T','0.4T','0.5T'];
const F3BI_T = [2,10,20,30,40,50,60,70,80,100,120,140];
const F3BI_S = [
 [0,-0.0005,-0.001,-0.0008,-0.0002,0.0001,0.0003,0.0003,0.0002,0.0001,0,0],
 [0,-0.001,-0.003,-0.002,-0.0005,0.0004,0.0008,0.0008,0.0006,0.0003,0,0],
 [0,-0.002,-0.004,-0.003,-0.001,0.0007,0.0015,0.0015,0.001,0.0005,0,0],
 [0,-0.003,-0.006,-0.004,-0.001,0.001,0.002,0.002,0.0015,0.0007,0,0],
 [0,-0.004,-0.008,-0.006,-0.002,0.002,0.003,0.003,0.002,0.001,0,0]];
const F3BI_XTICKS = ['0','20','40','60','80','100','120','140'];
const F3BI_YTICKS = ['-0.008','-0.006','-0.004','-0.002','0.000','0.002'];
const F3C_T = [2,5,10,15,20,25,35,50,65,80,100,115,125,135,150];
const F3C_S = [
 [-0.1,-0.2,-0.05,0,0.01,0.015,0.02,0.03,0.03,0.03,0.02,0.01,0,0,0],
 [-0.35,-0.5,-0.12,0,0.03,0.05,0.08,0.1,0.11,0.1,0.07,0.03,0.02,0.01,0.01],
 [-0.7,-0.75,-0.2,-0.01,0.05,0.1,0.16,0.2,0.21,0.19,0.13,0.06,0.03,0.02,0.02],
 [-1.1,-0.9,-0.3,-0.03,0.08,0.17,0.25,0.31,0.32,0.29,0.2,0.1,0.05,0.03,0.03],
 [-1.3,-1.0,-0.4,-0.05,0.1,0.22,0.33,0.41,0.43,0.39,0.28,0.13,0.07,0.04,0.04],
 [-1.4,-1.1,-0.5,-0.08,0.12,0.25,0.4,0.5,0.53,0.48,0.34,0.17,0.08,0.05,0.05],
 [-1.6,-1.3,-0.6,-0.1,0.15,0.3,0.48,0.62,0.68,0.62,0.45,0.22,0.1,0.06,0.05]];
const F3C_YTICKS = ['-1.8','-1.5','-1.2','-0.9','-0.6','-0.3','0.0','0.3','0.6'];
// Fig 4
const F4_LABELS = ['x=0.0','x=0.05','x=0.2'];
const F4A_T = [[2,5,8,12,20,30,40,60,80,100,120,140,150],[2,5,8,10,12,15,20,30,40,60,75,90,110,130,150],[2,5,8,10,12,15,20,30,40,60,75,90,110,130,150]];
const F4A_Y = [[-0.03,0.0,0.015,0.022,0.026,0.025,0.022,0.015,0.012,0.01,0.008,0.006,0.005],[-0.09,-0.05,0.02,0.07,0.09,0.08,0.06,0.045,0.04,0.035,0.04,0.03,0.02,0.01,0.003],[-0.1,-0.07,0.0,0.08,0.12,0.1,0.08,0.06,0.05,0.05,0.055,0.04,0.03,0.02,0.01]];
const F4A_YTICKS = ['-0.10','-0.05','0.00','0.05','0.10'];
const F4B_T = [[2,4,6,8,15,25,40,60,80,100,120,135,140,145,150],[2,10,20,30,40,60,80,100,120,150],[2,10,15,20,25,30,35,45,55,65,75,85,100,120,150]];
const F4B_Y = [[-1.0,0.5,0.7,0.72,0.68,0.65,0.75,0.9,1.0,1.05,1.1,1.15,1.0,1.12,1.05],[0.0,0.05,0.08,0.06,0.02,-0.05,-0.07,-0.05,-0.02,0.0],[0.1,0.2,0.5,0.9,1.2,0.9,0.4,-0.1,-0.4,-0.6,-0.68,-0.6,-0.35,-0.15,-0.1]];
const F4B_YTICKS = ['-0.5','0.0','0.5','1.0'];
const F4B_RTICKS = ['0.00','0.01','0.02','0.03'];
const F4_XTICKS = ['0','25','50','75','100','125','150'];
const F4_TLINES = [24,76];
// Fig 5a
const F5A_LABELS = ['x=0.0','x=0.05','x=0.2','x=0.0','x=0.05','x=0.2'];
const F5A_H = [[1,2,3,4,5,6,7],[0.1,0.2,0.3,0.5,1,2,3,4,5,6,7],[0.1,0.2,0.3,0.5,1,2,3,4,5,6,7],[1,2,3,4,5,6,7],[0.1,0.2,0.3,0.5,1,2,3,4,5,6,7],[0.1,0.2,0.3,0.5,1,2,3,4,5,6]];
const F5A_Y = [[38,49,48,49,48,49,49],[54,58,62,65,66,66,70,62,69,72,74],[41,44,50,53,59,62,67,68,72,74,77],[72,81,67,71,74,76,77],[26,28,25,22,15,9,7,10,9,9,9],[22,23,23,20,15,15,15,15,12,12]];
const F5A_YTICKS = ['20','40','60','80'];
const F5AI_T = [5,10,15,20,25,30,40,50,60,70,75,80,90,100,110,120,130];
const F5AI_S = [-0.00005,-0.0001,-0.0002,-0.00028,-0.0002,-0.0001,0,0.00005,0.0002,0.0003,0.00028,0.00025,0.00027,0.0002,0.0001,0.00005,0.00003];
// Fig 5b-d
const F5_RLABELS = ['RC(TC)','RC(TN)','RCP(TC)','RCP(TN)'];
const F5B_H = [1,2,3,4,5,6,7];
const F5B_Y = [[0.2,0.5,0.7,0.9,1.1,1.4,1.8],[0.3,0.8,1.5,2.6,3.9,5.6,7.2],[0.2,0.3,0.5,0.8,1.1,1.6,2.1],[0.3,1.0,1.9,3.2,5.0,7.2,9.6]];
const F5B_YTICKS = ['0','2','4','6','8','10'];
const F5C_H = [0.1,0.2,0.3,0.5,1,2,3,4,5,6,7];
const F5C_Y = [[0.1,0.2,0.3,0.5,0.8,2,4.3,6.7,9.3,11.9,15.4],[0,-0.1,-0.2,-0.3,-0.5,-0.9,-1.2,-1.6,-1.7,-2.2,-2.9],[0.1,0.2,0.3,0.5,0.9,2.5,5.4,8.3,12,14.8,18.6],[0,-0.1,-0.2,-0.3,-0.6,-1.2,-1.6,-2.1,-2.1,-2.7,-3.7]];
const F5C_YTICKS = ['0','5','10','15','20'];
const F5D_HC = [0.1,0.2,0.3,0.5,1,2,3,4,5,6,7];
const F5D_HN = [0.1,0.2,0.3,0.5,1,2,3,4,5,6];
const F5D_Y = [[0.5,1,1.5,2,3.5,7,12.5,17.5,25,31,43],[0,-0.5,-1,-1.5,-3,-6,-9,-11,-13,-14],[0.5,1,1.5,2,4,9,16,22,32,38,52],[0,-0.5,-1,-2,-4,-8,-12,-15,-17,-18]];
const F5D_YTICKS = ['-20','0','20','40','60'];
const F5_XTICKS = ['0','1','2','3','4','5','6','7'];
const F5I_H = [0,1,2,3,4,5,6,7];
const F5BI_Y = [[0,0.005,0.01,0.02,0.03,0.04,0.05,0.06],[0,0.01,0.02,0.035,0.05,0.07,0.09,0.12],[0,0,0,0.002,0.003,0.004,0.004,0.005]];
const F5CI_Y = [[0,0.02,0.05,0.08,0.12,0.16,0.2,0.25],[0,-0.02,-0.05,-0.09,-0.13,-0.17,-0.22,-0.28]];
const F5DI_Y = [[0,0.05,0.1,0.17,0.25,0.33,0.42,0.55],[0,-0.15,-0.4,-0.75,-1.1,-1.5,-1.75,-1.8]];

/* ===================== DRAWING ===================== */
const NS='http://www.w3.org/2000/svg';
const FIG=document.getElementById('figures');
function el(tag,parent){const e=document.createElementNS(NS,tag);parent.appendChild(e);return e;}
function set(e,o){for(const k in o)e.setAttribute(k,o[k]);return e;}
const PAL=['#e41a1c','#000000','#ff00ff','#008000','#ff8c00','#00008b','#008080','#2e8b57','#800000','#4b0082','#9932cc','#d2691e','#1e90ff','#ff1493','#808000','#00ced1','#b8860b','#ff6347','#4169e1','#555555','#a0522d','#6a5acd','#32cd32','#c71585','#708090','#000000'];
const F3COL=['#e41a1c','#000000','#1f3fff','#ff00ff','#0a8a0a','#ff8c00','#8b0000'];

function txt(g,x,y,s,fs,o){
  o=o||{};
  const t=set(el('text',g),{x:x,y:y,'font-size':fs,'class':'ax'});
  if(o.anchor)t.setAttribute('text-anchor',o.anchor);
  if(o.rot)t.setAttribute('transform','rotate(-90 '+x+' '+y+')');
  if(o.fill)t.setAttribute('fill',o.fill);
  t.textContent=s;
  return t;
}
function axes(name,b,xd,yd,xt,yt,o){
  o=o||{};
  const g=el('g',FIG);
  
  
  const sx=v=>b.x+(v-xd[0])/(xd[1]-xd[0])*b.w;
  const sy=v=>b.y+b.h-(v-yd[0])/(yd[1]-yd[0])*b.h;
  const fs=o.fs||10;
  const fr=set(el('rect',g),{x:b.x,y:b.y,width:b.w,height:b.h,fill:o.bg||'none',stroke:'#000','stroke-width':o.sw||1.2});
  
  
  const tl=o.tl||4;
  xt.forEach(s=>{
    const v=parseFloat(s),X=sx(v);
    set(el('line',g),{x1:X,x2:X,y1:b.y+b.h,y2:b.y+b.h-tl,stroke:'#000','stroke-width':1});
    if(!o.noxl){const t=txt(g,X,b.y+b.h+fs+2,s,fs,{anchor:'middle'});
      
      }
  });
  yt.forEach(s=>{
    const v=parseFloat(s),Y=sy(v);
    set(el('line',g),{x1:b.x,x2:b.x+tl,y1:Y,y2:Y,stroke:'#000','stroke-width':1});
    if(!o.noyl){const t=txt(g,b.x-3,Y+fs*0.35,s,fs,{anchor:'end'});
      
      }
  });
  if(o.xlab){const t=txt(g,o.xlab[0],o.xlab[1],o.xlab[2],o.xlab[3]||14,{anchor:'middle'});
    
    }
  if(o.ylab){const t=txt(g,o.ylab[0],o.ylab[1],o.ylab[2],o.ylab[3]||13,{anchor:'middle',rot:true});
    
    }
  return {g:g,sx:sx,sy:sy,b:b};
}
function marker(g,type,X,Y,s,color,hollow){
  let m;
  if(type==='sq'){m=set(el('rect',g),{x:X-s,y:Y-s,width:2*s,height:2*s});}
  else if(type==='ci'){m=set(el('circle',g),{cx:X,cy:Y,r:s});}
  else if(type==='tr'){m=set(el('polygon',g),{points:(X)+','+(Y-s*1.2)+' '+(X-s*1.1)+','+(Y+s*0.8)+' '+(X+s*1.1)+','+(Y+s*0.8)});}
  else if(type==='tv'){m=set(el('polygon',g),{points:(X)+','+(Y+s*1.2)+' '+(X-s*1.1)+','+(Y-s*0.8)+' '+(X+s*1.1)+','+(Y-s*0.8)});}
  else if(type==='tl'){m=set(el('polygon',g),{points:(X-s*1.2)+','+(Y)+' '+(X+s*0.8)+','+(Y-s*1.1)+' '+(X+s*0.8)+','+(Y+s*1.1)});}
  else return;
  set(m,{fill:hollow?'#fff':color,stroke:color,'stroke-width':1});
  
  
}
function series(ax,name,xs,ys,color,o){
  o=o||{};
  const g=el('g',ax.g);
  
  
  const pts=xs.map((x,i)=>ax.sx(x).toFixed(1)+','+ax.sy(ys[i]).toFixed(1)).join(' ');
  if(!o.noline){
    const p=set(el('polyline',g),{points:pts,fill:'none',stroke:color,'stroke-width':o.w||1.4,'stroke-linejoin':'round'});
    if(o.dash)p.setAttribute('stroke-dasharray',o.dash);
  }
  if(o.m){xs.forEach((x,i)=>marker(g,o.m,ax.sx(x),ax.sy(ys[i]),o.ms||2.5,color,o.hollow));}
  return g;
}
function legendEntry(g,x,y,len,label,color,o){
  o=o||{};
  const e=el('g',g);
  
  
  const l=set(el('line',e),{x1:x,x2:x+len,y1:y,y2:y,stroke:color,'stroke-width':o.w||1.6});
  if(o.dash)l.setAttribute('stroke-dasharray',o.dash);
  if(o.m)marker(e,o.m,x+len/2,y,o.ms||2.5,color,o.hollow);
  txt(e,x+len+3,y+(o.fs||10)*0.35,label,o.fs||10);
}
function label(ax,x,y,s,fs,name){
  const t=txt(ax.g,x,y,s,fs);
  
  
}
function hline(ax,v,color,dash,x0,x1){
  const l=set(el('line',ax.g),{x1:ax.sx(x0),x2:ax.sx(x1),y1:ax.sy(v),y2:ax.sy(v),stroke:color,'stroke-width':1,'stroke-dasharray':dash});
  
  
}

/* ---------- FIG 1a ---------- */
const a1=axes('fig1a-magnetization-vs-temperature',{x:1053,y:83,w:315,h:251},[-2,302],[0,9.3],F1A_XTICKS,F1A_YTICKS,{fs:11,xlab:[1210,358,'T (K)',15],ylab:[1030,208,'M/H (10⁻⁵ emu/g.Oe)',13]});
const yr=set(el('rect',a1.g),{x:a1.sx(100),y:a1.sy(0.95),width:a1.sx(152)-a1.sx(100),height:a1.sy(0)-a1.sy(0.95),fill:'#ffff00'});


series(a1,'series-zfc-x0',F1A_T_ZFC0,F1A_M_ZFC0,'#ee1111',{dash:'6,4'});
series(a1,'series-fc-x0',F1A_T_FC0,F1A_M_FC0,'#ee1111',{});
series(a1,'series-zfc-x005',F1A_T_ZFC005,F1A_M_ZFC005,'#1515d0',{dash:'6,4'});
series(a1,'series-fc-x005',F1A_T_FC005,F1A_M_FC005,'#1515d0',{});
const ar1=set(el('line',a1.g),{x1:a1.sx(142),y1:a1.sy(0.9),x2:a1.sx(158),y2:a1.sy(5.9),stroke:'#000','stroke-width':0.8});


const ar2=set(el('line',a1.g),{x1:a1.sx(18),y1:a1.sy(7.5),x2:a1.sx(18),y2:a1.sy(8.6),stroke:'#000','stroke-width':1.5});


const ar3=set(el('line',a1.g),{x1:a1.sx(18),y1:a1.sy(3.1),x2:a1.sx(18),y2:a1.sy(2.1),stroke:'#000','stroke-width':1.5});


label(a1,1087,96,'x = 0.05',11,'annotation-x005');
label(a1,1121,152,'(a)',12,'panel-label-a');
label(a1,1090,301,'x = 0.0',11,'annotation-x0');
[0,1,2,3].forEach(i=>legendEntry(a1.g,1266,261+i*14.5,22,F1A_LEGEND[i],i<2?'#ee1111':'#1515d0',{dash:i%2===0?'5,3':null,fs:10}));
const a1i=axes('fig1a-inset-zfc',{x:1190,y:87,w:166,h:130},[99.5,160.5],[0.49,0.62],F1I_XTICKS,F1I_YTICKS,{fs:10,bg:'#fff'});
const gr=set(el('rect',a1i.g),{x:a1i.sx(120),y:a1i.sy(0.589),width:a1i.sx(145)-a1i.sx(120),height:a1i.sy(0.52)-a1i.sy(0.589),fill:'#22ee22'});


series(a1i,'series-zfc-inset',F1I_T,F1I_M,'#e02020',{m:'ci',ms:1.4,w:1.2});
legendEntry(a1i.g,1288,101,22,'ZFC','#e02020',{m:'ci',ms:1.4,fs:10});
label(a1i,1200,208,'x= 0.0',10,'annotation-x0');

/* ---------- FIG 1b ---------- */
const a1b=axes('fig1b-magnetization-vs-field',{x:1053,y:367,w:315,h:249},[0,7.5],[0,0.65],F1B_XTICKS,F1B_YTICKS,{fs:11,xlab:[1208,645,'H (T)',15],ylab:[1030,490,'M (emu/g)',13]});
F1B_END.forEach((v,i)=>series(a1b,'isotherm-line',[0,7],[0,v],PAL[i%PAL.length],{w:1.1}));
label(a1b,1077,398,'(b)   x = 0.0',12,'panel-label-b');
F1B_TLABELS.forEach((s,i)=>label(a1b,1352,376+i*10,s,9,'temperature-label'));
label(a1b,1346,548,'170K',9,'temperature-label');
const ar4=set(el('line',a1b.g),{x1:1362,y1:412,x2:1362,y2:538,stroke:'#000','stroke-width':0.8});



/* ---------- FIG 2a ---------- */
const F2COL=['#000000','#ee1111','#00c000','#1515e0','#00e0ff','#ff00ff'];
const F2M=['sq','ci','tr','tv','tl','tl'];
const a2=axes('fig2a-dmdh-x005',{x:1432,y:79,w:338,h:267},[-0.2,7.13],[0,1],F2_XTICKS,[],{noxl:true,ylab:[1416,212,'dM/dH (arb. units)',14]});
F2A_H.forEach((hs,i)=>series(a2,'series-'+F2A_LABELS[i],hs,F2A_Y[i],F2COL[i],{m:F2M[i],ms:2.8,w:1.2}));
F2A_LABELS.forEach((s,i)=>legendEntry(a2.g,1490,87+i*15.7,18,s,F2COL[i],{m:F2M[i],ms:2.8,fs:11}));
label(a2,1457,304,'(a)',13,'panel-label-a');
label(a2,1448,331,'x = 0.05',13,'annotation-x005');
const a2i=axes('fig2a-inset-isotherms',{x:1598,y:82,w:168,h:132},[0,8],[0,0.66],F2I_XTICKS,F2AI_YTICKS,{fs:10,bg:'#fff',ylab:[1566,148,'M (emu/g)',12]});
F2A_INSET_END.forEach((v,i)=>series(a2i,'isotherm-line',[0,7],[0,v],PAL[i%PAL.length],{w:1}));
label(a2i,1745,94,'5K',9,'temperature-label');
label(a2i,1742,205,'150K',9,'temperature-label');

/* ---------- FIG 2b ---------- */
const a2b=axes('fig2b-dmdh-x02',{x:1432,y:346,w:338,h:269},[-0.2,7.13],[0,1],F2_XTICKS,[],{fs:12,xlab:[1598,646,'H (T)',15],ylab:[1416,480,'dM/dH (arb. units)',14]});
F2B_H.forEach((hs,i)=>series(a2b,'series-'+F2B_LABELS[i],hs,F2B_Y[i],F2COL[i],{m:F2M[i],ms:2.8,w:1.2}));
F2B_LABELS.forEach((s,i)=>legendEntry(a2b.g,1494,355+i*15.6,18,s,F2COL[i],{m:F2M[i],ms:2.8,fs:11}));
label(a2b,1459,580,'(b)',13,'panel-label-b');
label(a2b,1450,606,'x = 0.2',13,'annotation-x02');
const a2bi=axes('fig2b-inset-isotherms',{x:1595,y:349,w:169,h:134},[0,8],[0,2.12],F2I_XTICKS,F2BI_YTICKS,{fs:10,bg:'#fff',ylab:[1566,415,'M (emu/g)',12]});
F2B_INSET_END.forEach((v,i)=>series(a2bi,'isotherm-line',[0,1.5,7],[0,F2B_INSET_MID[i],v],PAL[i%PAL.length],{w:1}));
label(a2bi,1746,363,'2K',9,'temperature-label');
label(a2bi,1740,475,'145K',9,'temperature-label');

/* ---------- FIG 3 ---------- */
const a3a=axes('fig3a-entropy-x0',{x:1970,y:80,w:227,h:176},[0,164],[-0.001,0.1197],F3A_XTICKS,F3A_YTICKS,{fs:8,ylab:[1948,168,'-ΔSM (J/kg.K)',9]});
F3A_S.forEach((s,i)=>series(a3a,'series-'+F3_FIELDS[i],F3A_T,s,F3COL[i],{w:1.6}));
F3_FIELDS.forEach((s,i)=>legendEntry(a3a.g,2152,96+i*13.5,16,s,F3COL[i],{fs:9,w:2}));
label(a3a,2094,106,'(a)',10,'panel-label-a');
label(a3a,2086,129,'x = 0.0',10,'annotation-x0');

const a3b=axes('fig3b-entropy-x005',{x:2219,y:80,w:225,h:176},[0,150],[-0.29,0.25],F3BC_XTICKS,F3B_YTICKS,{fs:8,xlab:[2352,280,'T (K)',11]});
hline(a3b,0,'#000','1,2',0,150);
F3B_S.forEach((s,i)=>series(a3b,'series-'+F3_FIELDS[i],F3B_T,s,F3COL[i],{w:1.6}));
F3_FIELDS.forEach((s,i)=>legendEntry(a3b.g,2406,171+i*13,16,s,F3COL[i],{fs:9,w:2}));
label(a3b,2410,99,'(b)',10,'panel-label-b');
label(a3b,2396,120,'x = 0.05',10,'annotation-x005');
const a3bi=axes('fig3b-inset-low-field',{x:2285,y:165,w:117,h:85},[0,150],[-0.009,0.004],F3BI_XTICKS,F3BI_YTICKS,{fs:6,bg:'#fff',tl:2});
hline(a3bi,0,'#000','2,2',0,150);
F3BI_S.forEach((s,i)=>series(a3bi,'series-'+F3BI_FIELDS[i],F3BI_T,s,['#e41a1c','#000','#1f3fff','#0a8a0a','#ff8c00'][i],{w:1.2}));
F3BI_FIELDS.forEach((s,i)=>legendEntry(a3bi.g,2360,200+i*10,10,s,['#e41a1c','#000','#1f3fff','#0a8a0a','#ff8c00'][i],{fs:7,w:1.6}));
const vl=set(el('line',a3bi.g),{x1:a3bi.sx(63),x2:a3bi.sx(63),y1:165,y2:250,stroke:'#e41a1c','stroke-width':0.8,'stroke-dasharray':'3,2'});



const a3c=axes('fig3c-entropy-x02',{x:2470,y:80,w:226,h:176},[0,150],[-1.69,0.71],F3BC_XTICKS,F3C_YTICKS,{fs:8});
hline(a3c,0,'#000','1,2',0,150);
F3C_S.forEach((s,i)=>series(a3c,'series-'+F3_FIELDS[i],F3C_T,s,F3COL[i],{w:1.6}));
F3_FIELDS.forEach((s,i)=>legendEntry(a3c.g,2647,157+i*13,16,s,F3COL[i],{fs:9,w:2}));
label(a3c,2576,192,'(c)',10,'panel-label-c');
label(a3c,2569,212,'x = 0.2',10,'annotation-x02');

/* ---------- FIG 4 ---------- */
const F4COL=['#1515e0','#000000','#ee1111'];
const F4M=['ci','sq','tr'];
const a4a=axes('fig4a-entropy-derivative',{x:2028,y:369,w:203,h:144},[0,150],[-0.103,0.129],F4_XTICKS,F4A_YTICKS,{noxl:true,fs:11,sw:1.6,ylab:[1982,440,'-d(ΔSM)/dH (arb. unit)',12]});
F4_TLINES.forEach(t=>{const l=set(el('line',a4a.g),{x1:a4a.sx(t),x2:a4a.sx(t),y1:369,y2:513,stroke:'#000','stroke-width':1.2,'stroke-dasharray':'7,3,2,3'});
  
  });
F4A_T.forEach((ts,i)=>series(a4a,'series-'+F4_LABELS[i],ts,F4A_Y[i],F4COL[i],{m:F4M[i],ms:3,w:1.4}));
F4_LABELS.forEach((s,i)=>legendEntry(a4a.g,2148,464+i*17,20,s,F4COL[i],{m:F4M[i],ms:3,fs:12}));
label(a4a,2172,389,'(a)',13,'panel-label-a');
const a4b=axes('fig4b-susceptibility-derivative',{x:2028,y:513,w:203,h:160},[0,150],[-0.77,1.3],F4_XTICKS,F4B_YTICKS,{fs:11,sw:1.6,xlab:[2130,710,'T (K)',15],ylab:[1982,600,'dχZFC/dT (arb. unit)',12]});
F4_TLINES.forEach(t=>{const l=set(el('line',a4b.g),{x1:a4b.sx(t),x2:a4b.sx(t),y1:513,y2:673,stroke:'#000','stroke-width':1.2,'stroke-dasharray':'7,3,2,3'});
  
  });
F4B_T.forEach((ts,i)=>series(a4b,'series-'+F4_LABELS[i],ts,F4B_Y[i],F4COL[i],{m:F4M[i],ms:3,w:1.4}));
F4_LABELS.forEach((s,i)=>legendEntry(a4b.g,2141,554+i*19,20,s,F4COL[i],{m:F4M[i],ms:3,fs:12}));
F4B_RTICKS.forEach((s,i)=>{const t=txt(a4b.g,2233,518+i*45,s,11);
  
  });
label(a4b,2172,655,'(b)',13,'panel-label-b');

/* ---------- FIG 5 ---------- */
const a5a=axes('fig5a-fwhm-vs-field',{x:3017,y:82,w:228,h:181},[0,7.05],[4.6,81],F5_XTICKS,F5A_YTICKS,{fs:9,xlab:[3131,286,'H (T)',12],ylab:[2996,172,'δTFWHM (K)',11]});
const F5AC=['#000','#ee1111','#1515e0','#000','#ee1111','#1515e0'];
const F5AM=['sq','ci','tr','sq','ci','tr'];
F5A_H.forEach((hs,i)=>series(a5a,'series-'+F5A_LABELS[i]+(i<3?'-TC':'-TN'),hs,F5A_Y[i],F5AC[i],{m:F5AM[i],ms:3,hollow:i<3,dash:i<3?'5,2,1,2':null,w:1.2}));
F5A_LABELS.forEach((s,i)=>legendEntry(a5a.g,3078,177+i*10.6,13,s,F5AC[i],{m:F5AM[i],ms:2.3,hollow:i<3,fs:8,w:1.2}));
label(a5a,3022,102,'(a)',11,'panel-label-a');
const a5ai=axes('fig5a-inset-rc-method',{x:3163,y:165,w:80,h:64},[0,130],[-0.00035,0.00035],['0','25','50','75','100','125'],[],{fs:6,bg:'#fff',tl:2});
const polyPts=[a5ai.sx(F5AI_T[0])+','+a5ai.sy(0)].concat(F5AI_T.map((t,i)=>a5ai.sx(t)+','+a5ai.sy(F5AI_S[i]))).concat([a5ai.sx(F5AI_T[F5AI_T.length-1])+','+a5ai.sy(0)]).join(' ');
const sh=set(el('polygon',a5ai.g),{points:polyPts,fill:'#b8b8b8'});


series(a5ai,'series-0.1T',F5AI_T,F5AI_S,'#1515e0',{m:'ci',ms:2,w:1});
label(a5ai,3190,202,'x = 0.05',7,'annotation-x005');

const F5RC=['#ee1111','#ee1111','#1515e0','#1515e0'];
const F5RM=['ci','tr','ci','tr'];
function rcLegend(ax,x,y,dy){F5_RLABELS.forEach((s,i)=>legendEntry(ax.g,x,y+i*dy,13,s,F5RC[i],{m:F5RM[i],ms:3,hollow:i>=2,dash:i>=2?'5,2,1,2':null,fs:8}));}
const a5b=axes('fig5b-rc-rcp-x0',{x:3276,y:82,w:229,h:181},[0,7.05],[-0.5,10],F5_XTICKS,F5B_YTICKS,{fs:9,xlab:[3390,286,'H (T)',12],ylab:[3254,172,'RC, RCP (J/kg)',11]});
F5B_Y.forEach((ys,i)=>series(a5b,'series-'+F5_RLABELS[i],F5B_H,ys,F5RC[i],{m:F5RM[i],ms:3.2,hollow:i>=2,dash:i>=2?'5,2,1,2':null,w:1.2}));
rcLegend(a5b,3288,183,13.5);
label(a5b,3428,100,'(b) x = 0.0',10,'panel-label-b');
const a5bi=axes('fig5b-inset-smax',{x:3310,y:86,w:107,h:65},[0,7],[-0.01,0.13],F5_XTICKS,['0.00','0.04','0.08','0.12'],{fs:6,bg:'#fff',tl:2});
['#000','#ee1111','#1515e0'].forEach((c,i)=>series(a5bi,'inset-series',F5I_H,F5BI_Y[i],c,{m:['sq','ci','tr'][i],ms:1.8,hollow:true,w:0.8}));
label(a5bi,3352,96,'x = 0.0',7,'annotation-x0');

const a5c=axes('fig5c-rc-rcp-x005',{x:3017,y:287,w:228,h:182},[0,7.05],[-4.3,21.9],F5_XTICKS,F5C_YTICKS,{fs:9,xlab:[3131,492,'H (T)',12],ylab:[2996,378,'RC, RCP (J/kg)',11]});
F5C_Y.forEach((ys,i)=>series(a5c,'series-'+F5_RLABELS[i],F5C_H,ys,F5RC[i],{m:F5RM[i],ms:3.2,hollow:i>=2,dash:i>=2?'5,2,1,2':null,w:1.2}));
rcLegend(a5c,3188,387,13.5);
label(a5c,3172,304,'(c) x = 0.05',10,'panel-label-c');
const a5ci=axes('fig5c-inset-smax',{x:3050,y:290,w:108,h:77},[0,7],[-0.3,0.27],F5_XTICKS,['-0.25','0.00','0.25'],{fs:6,bg:'#fff',tl:2});
hline(a5ci,0,'#22cc22','2,2',0,7);
['#000','#ee1111'].forEach((c,i)=>series(a5ci,'inset-series',F5I_H,F5CI_Y[i],c,{m:['sq','ci'][i],ms:1.8,hollow:true,w:0.8}));
label(a5ci,3064,302,'x = 0.05',7,'annotation-x005');

const a5d=axes('fig5d-rc-rcp-x02',{x:3276,y:287,w:229,h:182},[0,7.05],[-20.5,60],F5_XTICKS,F5D_YTICKS,{fs:9,xlab:[3390,492,'H (T)',12],ylab:[3254,378,'RC, RCP (J/kg)',11]});
[F5D_HC,F5D_HN,F5D_HC,F5D_HN].forEach((hs,i)=>series(a5d,'series-'+F5_RLABELS[i],hs,F5D_Y[i],F5RC[i],{m:F5RM[i],ms:3.2,hollow:i>=2,dash:i>=2?'5,2,1,2':null,w:1.2}));
rcLegend(a5d,3446,388,13.5);
label(a5d,3420,304,'(d) x = 0.2',10,'panel-label-d');
const a5di=axes('fig5d-inset-smax',{x:3301,y:290,w:108,h:77},[0,7],[-2.1,0.7],F5_XTICKS,['-2.0','-1.5','-1.0','-0.5','0.0','0.5'],{fs:6,bg:'#fff',tl:2});
hline(a5di,0,'#22cc22','2,2',0,7);
['#000','#ee1111'].forEach((c,i)=>series(a5di,'inset-series',F5I_H,F5DI_Y[i],c,{m:['sq','ci'][i],ms:1.8,hollow:true,w:0.8}));
label(a5di,3330,302,'x = 0.2',7,'annotation-x02');
</script>
</body></html>
